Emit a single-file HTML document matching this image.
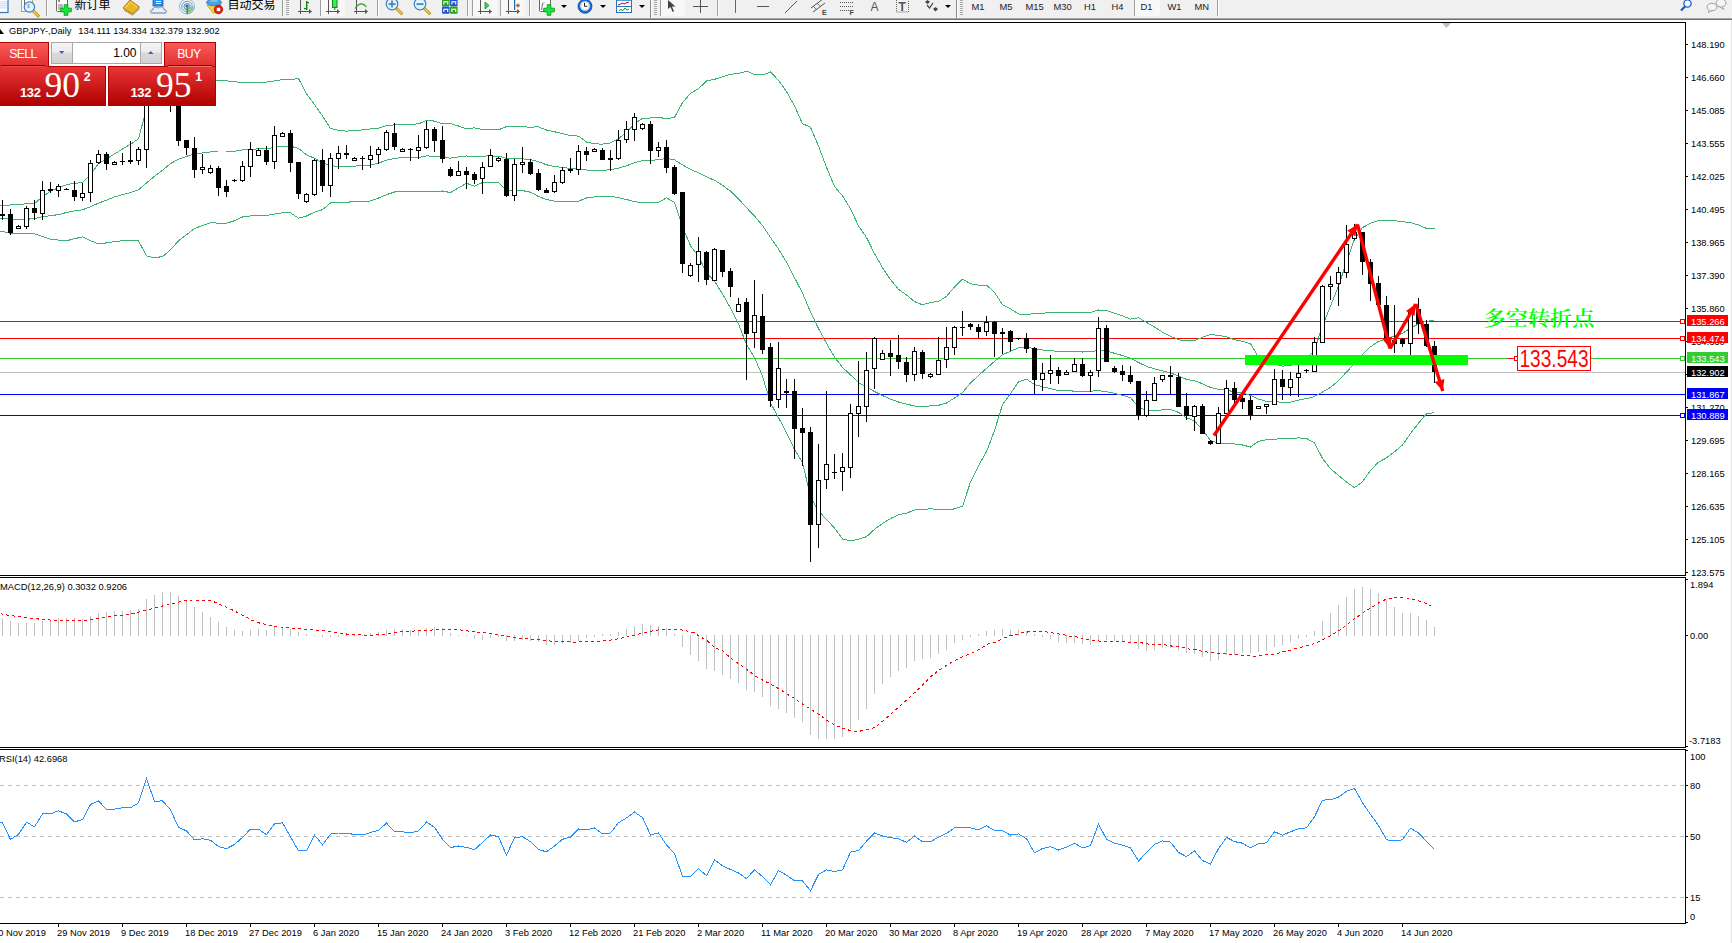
<!DOCTYPE html>
<html><head><meta charset="utf-8"><title>GBPJPY Daily</title><style>html,body{margin:0;padding:0;background:#fff;width:1732px;height:943px;overflow:hidden;position:relative}</style></head>
<body>
<svg width="1732" height="943" viewBox="0 0 1732 943" style="position:absolute;left:0;top:0"><defs><clipPath id="cm"><rect x="0" y="23" width="1685" height="552"/></clipPath><clipPath id="cmacd"><rect x="0" y="578" width="1685" height="169"/></clipPath><clipPath id="crsi"><rect x="0" y="750" width="1685" height="173"/></clipPath></defs><g clip-path="url(#cm)"><g shape-rendering="crispEdges"><rect x="0" y="321" width="1685" height="1" fill="#ff0000"/><rect x="0" y="338" width="1685" height="1" fill="#ff0000"/><rect x="0" y="358" width="1685" height="1" fill="#32cd32"/><rect x="0" y="372" width="1685" height="1" fill="#c0c0c0"/><rect x="0" y="394" width="1685" height="1" fill="#0000ff"/><rect x="0" y="415" width="1685" height="1" fill="#0000ff"/></g><g shape-rendering="crispEdges"><polyline points="-5.5,205.9 2.5,205.9 10.5,205.0 18.5,204.5 26.5,203.8 34.5,203.6 42.5,196.7 50.5,191.2 58.5,187.7 66.5,184.7 74.5,183.3 82.5,182.6 90.5,174.6 98.5,163.6 106.5,158.8 114.5,153.9 122.5,149.1 130.5,144.3 138.5,138.8 146.5,108.5 154.5,94.8 162.5,83.9 170.5,77.4 178.5,77.7 186.5,77.8 194.5,79.9 202.5,80.4 210.5,81.0 218.5,80.8 226.5,80.8 234.5,81.7 242.5,82.7 250.5,82.3 258.5,82.2 266.5,82.1 274.5,80.9 282.5,79.6 290.5,79.6 298.5,78.6 306.5,93.7 314.5,104.5 322.5,116.0 330.5,128.5 338.5,130.4 346.5,131.1 354.5,130.4 362.5,129.9 370.5,129.0 378.5,128.2 386.5,125.5 394.5,124.9 402.5,124.1 410.5,124.2 418.5,123.9 426.5,120.3 434.5,121.1 442.5,123.9 450.5,123.6 458.5,126.0 466.5,128.8 474.5,127.8 482.5,129.6 490.5,129.5 498.5,129.8 506.5,126.6 514.5,126.7 522.5,126.9 530.5,127.1 538.5,126.9 546.5,130.0 554.5,131.8 562.5,133.6 570.5,135.5 578.5,136.1 586.5,142.0 594.5,143.9 602.5,144.1 610.5,143.0 618.5,138.7 626.5,132.2 634.5,123.8 642.5,118.4 650.5,118.0 658.5,117.1 666.5,118.9 674.5,117.4 682.5,102.7 690.5,93.3 698.5,88.7 706.5,81.0 714.5,79.3 722.5,76.8 730.5,74.2 738.5,73.6 746.5,71.1 754.5,74.5 762.5,75.0 770.5,72.0 778.5,80.3 786.5,91.6 794.5,105.9 802.5,123.7 810.5,127.2 818.5,146.0 826.5,167.2 834.5,186.5 842.5,195.8 850.5,208.7 858.5,226.0 866.5,237.4 874.5,253.7 882.5,267.6 890.5,279.6 898.5,289.3 906.5,295.0 914.5,301.6 922.5,304.8 930.5,302.5 938.5,301.4 946.5,296.3 954.5,287.1 962.5,279.2 970.5,283.8 978.5,285.1 986.5,285.1 994.5,292.3 1002.5,304.8 1010.5,308.9 1018.5,314.0 1026.5,314.5 1034.5,313.7 1042.5,313.1 1050.5,312.8 1058.5,312.1 1066.5,312.3 1074.5,312.5 1082.5,312.4 1090.5,312.5 1098.5,310.0 1106.5,310.4 1114.5,313.1 1122.5,315.9 1130.5,319.1 1138.5,317.7 1146.5,322.5 1154.5,327.0 1162.5,332.1 1170.5,336.2 1178.5,339.7 1186.5,341.0 1194.5,340.5 1202.5,337.3 1210.5,334.5 1218.5,335.4 1226.5,336.8 1234.5,339.7 1242.5,341.3 1250.5,343.6 1258.5,357.2 1266.5,362.9 1274.5,364.2 1282.5,366.1 1290.5,365.7 1298.5,362.2 1306.5,358.7 1314.5,350.1 1322.5,325.8 1330.5,306.1 1338.5,286.0 1346.5,262.0 1354.5,239.1 1362.5,227.6 1370.5,223.2 1378.5,220.5 1386.5,220.1 1394.5,220.6 1402.5,221.7 1410.5,222.6 1418.5,224.9 1426.5,228.4 1434.5,228.9" fill="none" stroke="#3cb371" stroke-width="1" /><polyline points="-5.5,218.3 2.5,218.3 10.5,219.0 18.5,219.1 26.5,219.2 34.5,218.7 42.5,216.7 50.5,215.7 58.5,214.6 66.5,212.5 74.5,210.9 82.5,209.8 90.5,206.7 98.5,203.1 106.5,200.1 114.5,196.9 122.5,194.6 130.5,192.5 138.5,189.8 146.5,182.9 154.5,176.3 162.5,170.3 170.5,163.6 178.5,159.3 186.5,156.3 194.5,154.1 202.5,153.0 210.5,151.9 218.5,152.0 226.5,152.0 234.5,151.2 242.5,149.9 250.5,149.2 258.5,148.9 266.5,148.8 274.5,147.5 282.5,146.1 290.5,146.2 298.5,148.4 306.5,154.9 314.5,158.3 322.5,162.8 330.5,165.7 338.5,166.4 346.5,166.6 354.5,166.1 362.5,165.6 370.5,165.0 378.5,163.1 386.5,160.1 394.5,158.4 402.5,157.6 410.5,157.7 418.5,157.5 426.5,155.9 434.5,156.2 442.5,157.4 450.5,158.1 458.5,157.0 466.5,156.0 474.5,157.0 482.5,156.1 490.5,155.9 498.5,156.2 506.5,158.3 514.5,158.6 522.5,158.8 530.5,159.7 538.5,161.7 546.5,164.8 554.5,166.5 562.5,167.5 570.5,168.5 578.5,168.7 586.5,170.0 594.5,170.4 602.5,170.5 610.5,169.7 618.5,168.1 626.5,165.8 634.5,162.7 642.5,160.6 650.5,160.3 658.5,159.8 666.5,158.4 674.5,159.9 682.5,164.9 690.5,169.5 698.5,172.6 706.5,176.9 714.5,180.2 722.5,185.3 730.5,191.1 738.5,198.8 746.5,207.7 754.5,216.0 762.5,225.5 770.5,237.6 778.5,249.0 786.5,262.1 794.5,277.7 802.5,293.1 810.5,311.9 818.5,328.5 826.5,343.3 834.5,357.2 842.5,367.4 850.5,374.8 858.5,382.6 866.5,387.1 874.5,391.5 882.5,395.6 890.5,399.1 898.5,402.0 906.5,404.1 914.5,405.9 922.5,407.0 930.5,405.7 938.5,405.3 946.5,403.0 954.5,398.0 962.5,392.7 970.5,382.9 978.5,375.5 986.5,368.4 994.5,361.4 1002.5,354.8 1010.5,351.2 1018.5,347.9 1026.5,346.9 1034.5,349.0 1042.5,350.0 1050.5,350.7 1058.5,351.4 1066.5,351.2 1074.5,351.9 1082.5,352.0 1090.5,351.9 1098.5,350.3 1106.5,351.0 1114.5,353.3 1122.5,355.6 1130.5,358.3 1138.5,362.5 1146.5,366.4 1154.5,368.9 1162.5,370.9 1170.5,372.7 1178.5,376.1 1186.5,379.4 1194.5,380.7 1202.5,383.8 1210.5,387.5 1218.5,389.3 1226.5,390.1 1234.5,391.9 1242.5,393.2 1250.5,395.3 1258.5,399.2 1266.5,401.3 1274.5,401.7 1282.5,402.3 1290.5,402.2 1298.5,400.1 1306.5,398.6 1314.5,396.5 1322.5,392.1 1330.5,387.4 1338.5,380.7 1346.5,372.1 1354.5,363.4 1362.5,354.7 1370.5,346.8 1378.5,341.4 1386.5,339.0 1394.5,336.2 1402.5,333.3 1410.5,328.1 1418.5,324.0 1426.5,321.1 1434.5,320.8" fill="none" stroke="#3cb371" stroke-width="1" /><polyline points="-5.5,231.3 2.5,231.3 10.5,233.5 18.5,233.6 26.5,233.7 34.5,233.9 42.5,236.6 50.5,239.1 58.5,240.1 66.5,240.8 74.5,238.7 82.5,236.9 90.5,240.8 98.5,243.8 106.5,242.9 114.5,241.5 122.5,240.8 130.5,240.1 138.5,240.8 146.5,255.9 154.5,257.7 162.5,256.6 170.5,249.8 178.5,240.9 186.5,234.8 194.5,228.4 202.5,225.6 210.5,222.8 218.5,223.1 226.5,223.3 234.5,220.7 242.5,217.0 250.5,216.0 258.5,215.7 266.5,215.5 274.5,214.1 282.5,212.7 290.5,212.8 298.5,218.2 306.5,216.0 314.5,212.1 322.5,209.7 330.5,203.0 338.5,202.3 346.5,202.2 354.5,201.7 362.5,201.4 370.5,201.0 378.5,198.0 386.5,194.7 394.5,192.0 402.5,191.1 410.5,191.1 418.5,191.1 426.5,191.5 434.5,191.2 442.5,191.0 450.5,192.6 458.5,187.9 466.5,183.3 474.5,186.2 482.5,182.6 490.5,182.4 498.5,182.7 506.5,190.0 514.5,190.4 522.5,190.6 530.5,192.2 538.5,196.5 546.5,199.5 554.5,201.2 562.5,201.4 570.5,201.6 578.5,201.3 586.5,198.0 594.5,197.0 602.5,196.9 610.5,196.3 618.5,197.6 626.5,199.5 634.5,201.6 642.5,202.8 650.5,202.7 658.5,202.5 666.5,197.9 674.5,202.3 682.5,227.1 690.5,245.7 698.5,256.4 706.5,272.8 714.5,281.2 722.5,293.9 730.5,308.1 738.5,324.0 746.5,344.3 754.5,357.5 762.5,376.1 770.5,403.1 778.5,417.6 786.5,432.6 794.5,449.5 802.5,462.6 810.5,496.5 818.5,511.0 826.5,519.4 834.5,528.0 842.5,539.0 850.5,540.9 858.5,539.2 866.5,536.7 874.5,529.3 882.5,523.5 890.5,518.5 898.5,514.7 906.5,513.2 914.5,510.1 922.5,509.3 930.5,508.9 938.5,509.2 946.5,509.8 954.5,508.9 962.5,506.3 970.5,481.9 978.5,465.8 986.5,451.7 994.5,430.6 1002.5,404.8 1010.5,393.5 1018.5,381.8 1026.5,379.2 1034.5,384.4 1042.5,386.9 1050.5,388.6 1058.5,390.7 1066.5,390.1 1074.5,391.3 1082.5,391.6 1090.5,391.2 1098.5,390.6 1106.5,391.7 1114.5,393.4 1122.5,395.3 1130.5,397.6 1138.5,407.3 1146.5,410.3 1154.5,410.8 1162.5,409.8 1170.5,409.3 1178.5,412.4 1186.5,417.8 1194.5,420.9 1202.5,430.2 1210.5,440.4 1218.5,443.2 1226.5,443.4 1234.5,444.0 1242.5,445.0 1250.5,447.0 1258.5,441.2 1266.5,439.8 1274.5,439.2 1282.5,438.5 1290.5,438.6 1298.5,437.9 1306.5,438.4 1314.5,442.9 1322.5,458.4 1330.5,468.7 1338.5,475.4 1346.5,482.1 1354.5,487.6 1362.5,481.8 1370.5,470.3 1378.5,462.2 1386.5,457.9 1394.5,451.8 1402.5,445.0 1410.5,433.6 1418.5,423.1 1426.5,413.8 1434.5,412.7" fill="none" stroke="#3cb371" stroke-width="1" /></g><g shape-rendering="crispEdges"><rect x="2" y="200" width="1" height="20" fill="#000"/><rect x="0" y="214" width="5" height="2" fill="#000"/><rect x="10" y="209" width="1" height="26" fill="#000"/><rect x="8" y="214" width="5" height="19" fill="#000"/><rect x="18" y="225" width="1" height="4" fill="#000"/><rect x="16" y="226" width="5" height="3" fill="#000"/><rect x="17" y="227" width="3" height="1" fill="#fff"/><rect x="26" y="206" width="1" height="23" fill="#000"/><rect x="24" y="208" width="5" height="19" fill="#000"/><rect x="25" y="209" width="3" height="17" fill="#fff"/><rect x="34" y="200" width="1" height="20" fill="#000"/><rect x="32" y="208" width="5" height="5" fill="#000"/><rect x="42" y="181" width="1" height="39" fill="#000"/><rect x="40" y="190" width="5" height="24" fill="#000"/><rect x="41" y="191" width="3" height="22" fill="#fff"/><rect x="50" y="182" width="1" height="11" fill="#000"/><rect x="48" y="189" width="5" height="2" fill="#000"/><rect x="58" y="184" width="1" height="13" fill="#000"/><rect x="56" y="186" width="5" height="5" fill="#000"/><rect x="57" y="187" width="3" height="3" fill="#fff"/><rect x="66" y="188" width="1" height="2" fill="#000"/><rect x="64" y="189" width="5" height="1" fill="#000"/><rect x="74" y="181" width="1" height="20" fill="#000"/><rect x="72" y="190" width="5" height="7" fill="#000"/><rect x="82" y="183" width="1" height="18" fill="#000"/><rect x="80" y="193" width="5" height="5" fill="#000"/><rect x="81" y="194" width="3" height="3" fill="#fff"/><rect x="90" y="160" width="1" height="42" fill="#000"/><rect x="88" y="163" width="5" height="30" fill="#000"/><rect x="89" y="164" width="3" height="28" fill="#fff"/><rect x="98" y="150" width="1" height="14" fill="#000"/><rect x="96" y="154" width="5" height="9" fill="#000"/><rect x="97" y="155" width="3" height="7" fill="#fff"/><rect x="106" y="152" width="1" height="18" fill="#000"/><rect x="104" y="154" width="5" height="10" fill="#000"/><rect x="114" y="161" width="1" height="4" fill="#000"/><rect x="112" y="162" width="5" height="3" fill="#000"/><rect x="113" y="163" width="3" height="1" fill="#fff"/><rect x="122" y="153" width="1" height="12" fill="#000"/><rect x="120" y="161" width="5" height="1" fill="#000"/><rect x="130" y="141" width="1" height="23" fill="#000"/><rect x="128" y="160" width="5" height="2" fill="#000"/><rect x="138" y="147" width="1" height="18" fill="#000"/><rect x="136" y="149" width="5" height="12" fill="#000"/><rect x="137" y="150" width="3" height="10" fill="#fff"/><rect x="146" y="52" width="1" height="116" fill="#000"/><rect x="144" y="64" width="5" height="86" fill="#000"/><rect x="145" y="65" width="3" height="84" fill="#fff"/><rect x="154" y="49" width="1" height="53" fill="#000"/><rect x="152" y="64" width="5" height="26" fill="#000"/><rect x="162" y="88" width="1" height="9" fill="#000"/><rect x="160" y="91" width="5" height="4" fill="#000"/><rect x="170" y="82" width="1" height="30" fill="#000"/><rect x="168" y="96" width="5" height="4" fill="#000"/><rect x="178" y="95" width="1" height="51" fill="#000"/><rect x="176" y="100" width="5" height="41" fill="#000"/><rect x="186" y="140" width="1" height="15" fill="#000"/><rect x="184" y="140" width="5" height="8" fill="#000"/><rect x="194" y="137" width="1" height="41" fill="#000"/><rect x="192" y="148" width="5" height="22" fill="#000"/><rect x="202" y="154" width="1" height="20" fill="#000"/><rect x="200" y="167" width="5" height="3" fill="#000"/><rect x="201" y="168" width="3" height="1" fill="#fff"/><rect x="210" y="165" width="1" height="9" fill="#000"/><rect x="208" y="168" width="5" height="5" fill="#000"/><rect x="209" y="169" width="3" height="3" fill="#fff"/><rect x="218" y="166" width="1" height="30" fill="#000"/><rect x="216" y="168" width="5" height="20" fill="#000"/><rect x="226" y="180" width="1" height="17" fill="#000"/><rect x="224" y="186" width="5" height="6" fill="#000"/><rect x="234" y="179" width="1" height="3" fill="#000"/><rect x="232" y="180" width="5" height="1" fill="#000"/><rect x="242" y="161" width="1" height="21" fill="#000"/><rect x="240" y="166" width="5" height="15" fill="#000"/><rect x="241" y="167" width="3" height="13" fill="#fff"/><rect x="250" y="142" width="1" height="35" fill="#000"/><rect x="248" y="149" width="5" height="18" fill="#000"/><rect x="249" y="150" width="3" height="16" fill="#fff"/><rect x="258" y="148" width="1" height="8" fill="#000"/><rect x="256" y="150" width="5" height="6" fill="#000"/><rect x="257" y="151" width="3" height="4" fill="#fff"/><rect x="266" y="146" width="1" height="19" fill="#000"/><rect x="264" y="150" width="5" height="12" fill="#000"/><rect x="274" y="126" width="1" height="43" fill="#000"/><rect x="272" y="135" width="5" height="27" fill="#000"/><rect x="273" y="136" width="3" height="25" fill="#fff"/><rect x="282" y="132" width="1" height="5" fill="#000"/><rect x="280" y="133" width="5" height="4" fill="#000"/><rect x="281" y="134" width="3" height="2" fill="#fff"/><rect x="290" y="130" width="1" height="42" fill="#000"/><rect x="288" y="133" width="5" height="30" fill="#000"/><rect x="298" y="162" width="1" height="37" fill="#000"/><rect x="296" y="162" width="5" height="32" fill="#000"/><rect x="306" y="193" width="1" height="10" fill="#000"/><rect x="304" y="194" width="5" height="8" fill="#000"/><rect x="305" y="195" width="3" height="6" fill="#fff"/><rect x="314" y="159" width="1" height="37" fill="#000"/><rect x="312" y="160" width="5" height="35" fill="#000"/><rect x="313" y="161" width="3" height="33" fill="#fff"/><rect x="322" y="149" width="1" height="43" fill="#000"/><rect x="320" y="160" width="5" height="26" fill="#000"/><rect x="330" y="153" width="1" height="44" fill="#000"/><rect x="328" y="158" width="5" height="28" fill="#000"/><rect x="329" y="159" width="3" height="26" fill="#fff"/><rect x="338" y="146" width="1" height="23" fill="#000"/><rect x="336" y="153" width="5" height="6" fill="#000"/><rect x="337" y="154" width="3" height="4" fill="#fff"/><rect x="346" y="145" width="1" height="14" fill="#000"/><rect x="344" y="153" width="5" height="2" fill="#000"/><rect x="354" y="157" width="1" height="4" fill="#000"/><rect x="352" y="158" width="5" height="3" fill="#000"/><rect x="353" y="159" width="3" height="1" fill="#fff"/><rect x="362" y="156" width="1" height="14" fill="#000"/><rect x="360" y="158" width="5" height="1" fill="#000"/><rect x="370" y="146" width="1" height="22" fill="#000"/><rect x="368" y="155" width="5" height="5" fill="#000"/><rect x="369" y="156" width="3" height="3" fill="#fff"/><rect x="378" y="147" width="1" height="17" fill="#000"/><rect x="376" y="149" width="5" height="6" fill="#000"/><rect x="377" y="150" width="3" height="4" fill="#fff"/><rect x="386" y="130" width="1" height="21" fill="#000"/><rect x="384" y="132" width="5" height="18" fill="#000"/><rect x="385" y="133" width="3" height="16" fill="#fff"/><rect x="394" y="123" width="1" height="27" fill="#000"/><rect x="392" y="133" width="5" height="14" fill="#000"/><rect x="402" y="148" width="1" height="4" fill="#000"/><rect x="400" y="149" width="5" height="3" fill="#000"/><rect x="401" y="150" width="3" height="1" fill="#fff"/><rect x="410" y="148" width="1" height="13" fill="#000"/><rect x="408" y="149" width="5" height="1" fill="#000"/><rect x="418" y="135" width="1" height="24" fill="#000"/><rect x="416" y="147" width="5" height="4" fill="#000"/><rect x="417" y="148" width="3" height="2" fill="#fff"/><rect x="426" y="121" width="1" height="28" fill="#000"/><rect x="424" y="129" width="5" height="19" fill="#000"/><rect x="425" y="130" width="3" height="17" fill="#fff"/><rect x="434" y="127" width="1" height="25" fill="#000"/><rect x="432" y="129" width="5" height="12" fill="#000"/><rect x="442" y="126" width="1" height="37" fill="#000"/><rect x="440" y="140" width="5" height="19" fill="#000"/><rect x="450" y="167" width="1" height="10" fill="#000"/><rect x="448" y="169" width="5" height="7" fill="#000"/><rect x="458" y="161" width="1" height="15" fill="#000"/><rect x="456" y="171" width="5" height="5" fill="#000"/><rect x="457" y="172" width="3" height="3" fill="#fff"/><rect x="466" y="167" width="1" height="22" fill="#000"/><rect x="464" y="171" width="5" height="4" fill="#000"/><rect x="474" y="172" width="1" height="12" fill="#000"/><rect x="472" y="174" width="5" height="6" fill="#000"/><rect x="482" y="162" width="1" height="32" fill="#000"/><rect x="480" y="167" width="5" height="12" fill="#000"/><rect x="481" y="168" width="3" height="10" fill="#fff"/><rect x="490" y="149" width="1" height="18" fill="#000"/><rect x="488" y="155" width="5" height="12" fill="#000"/><rect x="489" y="156" width="3" height="10" fill="#fff"/><rect x="498" y="157" width="1" height="5" fill="#000"/><rect x="496" y="158" width="5" height="3" fill="#000"/><rect x="497" y="159" width="3" height="1" fill="#fff"/><rect x="506" y="153" width="1" height="44" fill="#000"/><rect x="504" y="159" width="5" height="37" fill="#000"/><rect x="514" y="159" width="1" height="42" fill="#000"/><rect x="512" y="164" width="5" height="32" fill="#000"/><rect x="513" y="165" width="3" height="30" fill="#fff"/><rect x="522" y="147" width="1" height="26" fill="#000"/><rect x="520" y="162" width="5" height="3" fill="#000"/><rect x="521" y="163" width="3" height="1" fill="#fff"/><rect x="530" y="159" width="1" height="16" fill="#000"/><rect x="528" y="162" width="5" height="12" fill="#000"/><rect x="538" y="169" width="1" height="22" fill="#000"/><rect x="536" y="173" width="5" height="17" fill="#000"/><rect x="546" y="188" width="1" height="5" fill="#000"/><rect x="544" y="190" width="5" height="3" fill="#000"/><rect x="554" y="175" width="1" height="18" fill="#000"/><rect x="552" y="182" width="5" height="10" fill="#000"/><rect x="553" y="183" width="3" height="8" fill="#fff"/><rect x="562" y="167" width="1" height="17" fill="#000"/><rect x="560" y="170" width="5" height="13" fill="#000"/><rect x="561" y="171" width="3" height="11" fill="#fff"/><rect x="570" y="158" width="1" height="15" fill="#000"/><rect x="568" y="169" width="5" height="2" fill="#000"/><rect x="578" y="145" width="1" height="30" fill="#000"/><rect x="576" y="151" width="5" height="19" fill="#000"/><rect x="577" y="152" width="3" height="17" fill="#fff"/><rect x="586" y="147" width="1" height="14" fill="#000"/><rect x="584" y="151" width="5" height="4" fill="#000"/><rect x="594" y="148" width="1" height="4" fill="#000"/><rect x="592" y="149" width="5" height="3" fill="#000"/><rect x="593" y="150" width="3" height="1" fill="#fff"/><rect x="602" y="148" width="1" height="12" fill="#000"/><rect x="600" y="150" width="5" height="10" fill="#000"/><rect x="610" y="150" width="1" height="21" fill="#000"/><rect x="608" y="158" width="5" height="2" fill="#000"/><rect x="618" y="130" width="1" height="30" fill="#000"/><rect x="616" y="140" width="5" height="19" fill="#000"/><rect x="617" y="141" width="3" height="17" fill="#fff"/><rect x="626" y="121" width="1" height="22" fill="#000"/><rect x="624" y="129" width="5" height="11" fill="#000"/><rect x="625" y="130" width="3" height="9" fill="#fff"/><rect x="634" y="113" width="1" height="28" fill="#000"/><rect x="632" y="117" width="5" height="13" fill="#000"/><rect x="633" y="118" width="3" height="11" fill="#fff"/><rect x="642" y="123" width="1" height="7" fill="#000"/><rect x="640" y="124" width="5" height="5" fill="#000"/><rect x="641" y="125" width="3" height="3" fill="#fff"/><rect x="650" y="121" width="1" height="43" fill="#000"/><rect x="648" y="124" width="5" height="27" fill="#000"/><rect x="658" y="142" width="1" height="15" fill="#000"/><rect x="656" y="147" width="5" height="4" fill="#000"/><rect x="657" y="148" width="3" height="2" fill="#fff"/><rect x="666" y="140" width="1" height="33" fill="#000"/><rect x="664" y="147" width="5" height="21" fill="#000"/><rect x="674" y="165" width="1" height="30" fill="#000"/><rect x="672" y="167" width="5" height="27" fill="#000"/><rect x="682" y="192" width="1" height="81" fill="#000"/><rect x="680" y="192" width="5" height="72" fill="#000"/><rect x="690" y="263" width="1" height="14" fill="#000"/><rect x="688" y="265" width="5" height="11" fill="#000"/><rect x="689" y="266" width="3" height="9" fill="#fff"/><rect x="698" y="237" width="1" height="45" fill="#000"/><rect x="696" y="251" width="5" height="14" fill="#000"/><rect x="697" y="252" width="3" height="12" fill="#fff"/><rect x="706" y="251" width="1" height="34" fill="#000"/><rect x="704" y="252" width="5" height="28" fill="#000"/><rect x="714" y="248" width="1" height="33" fill="#000"/><rect x="712" y="249" width="5" height="32" fill="#000"/><rect x="713" y="250" width="3" height="30" fill="#fff"/><rect x="722" y="250" width="1" height="27" fill="#000"/><rect x="720" y="250" width="5" height="22" fill="#000"/><rect x="730" y="268" width="1" height="29" fill="#000"/><rect x="728" y="271" width="5" height="16" fill="#000"/><rect x="738" y="298" width="1" height="14" fill="#000"/><rect x="736" y="304" width="5" height="8" fill="#000"/><rect x="737" y="305" width="3" height="6" fill="#fff"/><rect x="746" y="298" width="1" height="82" fill="#000"/><rect x="744" y="302" width="5" height="32" fill="#000"/><rect x="754" y="280" width="1" height="68" fill="#000"/><rect x="752" y="315" width="5" height="18" fill="#000"/><rect x="753" y="316" width="3" height="16" fill="#fff"/><rect x="762" y="294" width="1" height="60" fill="#000"/><rect x="760" y="316" width="5" height="34" fill="#000"/><rect x="770" y="343" width="1" height="64" fill="#000"/><rect x="768" y="347" width="5" height="54" fill="#000"/><rect x="778" y="342" width="1" height="66" fill="#000"/><rect x="776" y="368" width="5" height="32" fill="#000"/><rect x="777" y="369" width="3" height="30" fill="#fff"/><rect x="786" y="379" width="1" height="29" fill="#000"/><rect x="784" y="391" width="5" height="2" fill="#000"/><rect x="794" y="379" width="1" height="80" fill="#000"/><rect x="792" y="391" width="5" height="38" fill="#000"/><rect x="802" y="408" width="1" height="58" fill="#000"/><rect x="800" y="428" width="5" height="5" fill="#000"/><rect x="810" y="427" width="1" height="135" fill="#000"/><rect x="808" y="432" width="5" height="93" fill="#000"/><rect x="818" y="444" width="1" height="104" fill="#000"/><rect x="816" y="480" width="5" height="45" fill="#000"/><rect x="817" y="481" width="3" height="43" fill="#fff"/><rect x="826" y="391" width="1" height="98" fill="#000"/><rect x="824" y="464" width="5" height="16" fill="#000"/><rect x="825" y="465" width="3" height="14" fill="#fff"/><rect x="834" y="454" width="1" height="25" fill="#000"/><rect x="832" y="472" width="5" height="1" fill="#000"/><rect x="842" y="453" width="1" height="38" fill="#000"/><rect x="840" y="467" width="5" height="5" fill="#000"/><rect x="841" y="468" width="3" height="3" fill="#fff"/><rect x="850" y="404" width="1" height="74" fill="#000"/><rect x="848" y="413" width="5" height="55" fill="#000"/><rect x="849" y="414" width="3" height="53" fill="#fff"/><rect x="858" y="361" width="1" height="76" fill="#000"/><rect x="856" y="406" width="5" height="8" fill="#000"/><rect x="857" y="407" width="3" height="6" fill="#fff"/><rect x="866" y="352" width="1" height="70" fill="#000"/><rect x="864" y="370" width="5" height="37" fill="#000"/><rect x="865" y="371" width="3" height="35" fill="#fff"/><rect x="874" y="337" width="1" height="52" fill="#000"/><rect x="872" y="338" width="5" height="31" fill="#000"/><rect x="873" y="339" width="3" height="29" fill="#fff"/><rect x="882" y="350" width="1" height="10" fill="#000"/><rect x="880" y="353" width="5" height="7" fill="#000"/><rect x="881" y="354" width="3" height="5" fill="#fff"/><rect x="890" y="340" width="1" height="36" fill="#000"/><rect x="888" y="353" width="5" height="4" fill="#000"/><rect x="898" y="335" width="1" height="34" fill="#000"/><rect x="896" y="355" width="5" height="7" fill="#000"/><rect x="906" y="357" width="1" height="25" fill="#000"/><rect x="904" y="362" width="5" height="13" fill="#000"/><rect x="914" y="347" width="1" height="34" fill="#000"/><rect x="912" y="351" width="5" height="24" fill="#000"/><rect x="913" y="352" width="3" height="22" fill="#fff"/><rect x="922" y="350" width="1" height="29" fill="#000"/><rect x="920" y="352" width="5" height="22" fill="#000"/><rect x="930" y="373" width="1" height="5" fill="#000"/><rect x="928" y="374" width="5" height="3" fill="#000"/><rect x="929" y="375" width="3" height="1" fill="#fff"/><rect x="938" y="337" width="1" height="38" fill="#000"/><rect x="936" y="360" width="5" height="15" fill="#000"/><rect x="937" y="361" width="3" height="13" fill="#fff"/><rect x="946" y="327" width="1" height="41" fill="#000"/><rect x="944" y="347" width="5" height="13" fill="#000"/><rect x="945" y="348" width="3" height="11" fill="#fff"/><rect x="954" y="326" width="1" height="29" fill="#000"/><rect x="952" y="327" width="5" height="21" fill="#000"/><rect x="953" y="328" width="3" height="19" fill="#fff"/><rect x="962" y="311" width="1" height="25" fill="#000"/><rect x="960" y="327" width="5" height="1" fill="#000"/><rect x="970" y="323" width="1" height="7" fill="#000"/><rect x="968" y="324" width="5" height="3" fill="#000"/><rect x="978" y="324" width="1" height="14" fill="#000"/><rect x="976" y="327" width="5" height="5" fill="#000"/><rect x="986" y="316" width="1" height="20" fill="#000"/><rect x="984" y="322" width="5" height="10" fill="#000"/><rect x="985" y="323" width="3" height="8" fill="#fff"/><rect x="994" y="321" width="1" height="36" fill="#000"/><rect x="992" y="322" width="5" height="12" fill="#000"/><rect x="1002" y="328" width="1" height="26" fill="#000"/><rect x="1000" y="332" width="5" height="2" fill="#000"/><rect x="1010" y="330" width="1" height="21" fill="#000"/><rect x="1008" y="331" width="5" height="11" fill="#000"/><rect x="1018" y="338" width="1" height="2" fill="#000"/><rect x="1016" y="338" width="5" height="1" fill="#000"/><rect x="1026" y="333" width="1" height="20" fill="#000"/><rect x="1024" y="338" width="5" height="11" fill="#000"/><rect x="1034" y="347" width="1" height="47" fill="#000"/><rect x="1032" y="348" width="5" height="32" fill="#000"/><rect x="1042" y="363" width="1" height="28" fill="#000"/><rect x="1040" y="373" width="5" height="7" fill="#000"/><rect x="1041" y="374" width="3" height="5" fill="#fff"/><rect x="1050" y="355" width="1" height="29" fill="#000"/><rect x="1048" y="370" width="5" height="4" fill="#000"/><rect x="1049" y="371" width="3" height="2" fill="#fff"/><rect x="1058" y="367" width="1" height="17" fill="#000"/><rect x="1056" y="370" width="5" height="6" fill="#000"/><rect x="1066" y="370" width="1" height="5" fill="#000"/><rect x="1064" y="372" width="5" height="3" fill="#000"/><rect x="1065" y="373" width="3" height="1" fill="#fff"/><rect x="1074" y="358" width="1" height="14" fill="#000"/><rect x="1072" y="364" width="5" height="8" fill="#000"/><rect x="1073" y="365" width="3" height="6" fill="#fff"/><rect x="1082" y="358" width="1" height="19" fill="#000"/><rect x="1080" y="364" width="5" height="12" fill="#000"/><rect x="1090" y="370" width="1" height="22" fill="#000"/><rect x="1088" y="372" width="5" height="4" fill="#000"/><rect x="1089" y="373" width="3" height="2" fill="#fff"/><rect x="1098" y="317" width="1" height="60" fill="#000"/><rect x="1096" y="328" width="5" height="43" fill="#000"/><rect x="1097" y="329" width="3" height="41" fill="#fff"/><rect x="1106" y="325" width="1" height="37" fill="#000"/><rect x="1104" y="328" width="5" height="34" fill="#000"/><rect x="1114" y="366" width="1" height="7" fill="#000"/><rect x="1112" y="368" width="5" height="4" fill="#000"/><rect x="1122" y="365" width="1" height="16" fill="#000"/><rect x="1120" y="371" width="5" height="4" fill="#000"/><rect x="1130" y="366" width="1" height="18" fill="#000"/><rect x="1128" y="375" width="5" height="7" fill="#000"/><rect x="1138" y="381" width="1" height="39" fill="#000"/><rect x="1136" y="381" width="5" height="34" fill="#000"/><rect x="1146" y="391" width="1" height="26" fill="#000"/><rect x="1144" y="400" width="5" height="16" fill="#000"/><rect x="1145" y="401" width="3" height="14" fill="#fff"/><rect x="1154" y="377" width="1" height="24" fill="#000"/><rect x="1152" y="383" width="5" height="18" fill="#000"/><rect x="1153" y="384" width="3" height="16" fill="#fff"/><rect x="1162" y="375" width="1" height="7" fill="#000"/><rect x="1160" y="375" width="5" height="5" fill="#000"/><rect x="1161" y="376" width="3" height="3" fill="#fff"/><rect x="1170" y="366" width="1" height="28" fill="#000"/><rect x="1168" y="375" width="5" height="2" fill="#000"/><rect x="1178" y="373" width="1" height="34" fill="#000"/><rect x="1176" y="377" width="5" height="30" fill="#000"/><rect x="1186" y="393" width="1" height="27" fill="#000"/><rect x="1184" y="406" width="5" height="10" fill="#000"/><rect x="1194" y="405" width="1" height="26" fill="#000"/><rect x="1192" y="406" width="5" height="11" fill="#000"/><rect x="1193" y="407" width="3" height="9" fill="#fff"/><rect x="1202" y="404" width="1" height="30" fill="#000"/><rect x="1200" y="406" width="5" height="28" fill="#000"/><rect x="1210" y="440" width="1" height="5" fill="#000"/><rect x="1208" y="441" width="5" height="3" fill="#000"/><rect x="1218" y="407" width="1" height="37" fill="#000"/><rect x="1216" y="413" width="5" height="31" fill="#000"/><rect x="1217" y="414" width="3" height="29" fill="#fff"/><rect x="1226" y="380" width="1" height="34" fill="#000"/><rect x="1224" y="388" width="5" height="26" fill="#000"/><rect x="1225" y="389" width="3" height="24" fill="#fff"/><rect x="1234" y="382" width="1" height="22" fill="#000"/><rect x="1232" y="388" width="5" height="12" fill="#000"/><rect x="1242" y="396" width="1" height="13" fill="#000"/><rect x="1240" y="398" width="5" height="4" fill="#000"/><rect x="1250" y="396" width="1" height="24" fill="#000"/><rect x="1248" y="400" width="5" height="15" fill="#000"/><rect x="1258" y="406" width="1" height="3" fill="#000"/><rect x="1256" y="406" width="5" height="3" fill="#000"/><rect x="1257" y="407" width="3" height="1" fill="#fff"/><rect x="1266" y="404" width="1" height="10" fill="#000"/><rect x="1264" y="404" width="5" height="3" fill="#000"/><rect x="1265" y="405" width="3" height="1" fill="#fff"/><rect x="1274" y="369" width="1" height="36" fill="#000"/><rect x="1272" y="379" width="5" height="26" fill="#000"/><rect x="1273" y="380" width="3" height="24" fill="#fff"/><rect x="1282" y="370" width="1" height="30" fill="#000"/><rect x="1280" y="379" width="5" height="8" fill="#000"/><rect x="1290" y="372" width="1" height="24" fill="#000"/><rect x="1288" y="379" width="5" height="9" fill="#000"/><rect x="1289" y="380" width="3" height="7" fill="#fff"/><rect x="1298" y="365" width="1" height="32" fill="#000"/><rect x="1296" y="373" width="5" height="5" fill="#000"/><rect x="1297" y="374" width="3" height="3" fill="#fff"/><rect x="1306" y="369" width="1" height="4" fill="#000"/><rect x="1304" y="370" width="5" height="1" fill="#000"/><rect x="1314" y="337" width="1" height="35" fill="#000"/><rect x="1312" y="342" width="5" height="30" fill="#000"/><rect x="1313" y="343" width="3" height="28" fill="#fff"/><rect x="1322" y="285" width="1" height="58" fill="#000"/><rect x="1320" y="286" width="5" height="57" fill="#000"/><rect x="1321" y="287" width="3" height="55" fill="#fff"/><rect x="1330" y="276" width="1" height="24" fill="#000"/><rect x="1328" y="284" width="5" height="3" fill="#000"/><rect x="1329" y="285" width="3" height="1" fill="#fff"/><rect x="1338" y="267" width="1" height="39" fill="#000"/><rect x="1336" y="272" width="5" height="12" fill="#000"/><rect x="1337" y="273" width="3" height="10" fill="#fff"/><rect x="1346" y="225" width="1" height="53" fill="#000"/><rect x="1344" y="244" width="5" height="29" fill="#000"/><rect x="1345" y="245" width="3" height="27" fill="#fff"/><rect x="1354" y="224" width="1" height="16" fill="#000"/><rect x="1352" y="232" width="5" height="7" fill="#000"/><rect x="1353" y="233" width="3" height="5" fill="#fff"/><rect x="1362" y="232" width="1" height="43" fill="#000"/><rect x="1360" y="232" width="5" height="30" fill="#000"/><rect x="1370" y="259" width="1" height="42" fill="#000"/><rect x="1368" y="262" width="5" height="22" fill="#000"/><rect x="1378" y="276" width="1" height="30" fill="#000"/><rect x="1376" y="283" width="5" height="22" fill="#000"/><rect x="1386" y="296" width="1" height="45" fill="#000"/><rect x="1384" y="305" width="5" height="36" fill="#000"/><rect x="1394" y="305" width="1" height="48" fill="#000"/><rect x="1392" y="340" width="5" height="4" fill="#000"/><rect x="1402" y="338" width="1" height="9" fill="#000"/><rect x="1400" y="339" width="5" height="5" fill="#000"/><rect x="1410" y="309" width="1" height="46" fill="#000"/><rect x="1408" y="310" width="5" height="34" fill="#000"/><rect x="1409" y="311" width="3" height="32" fill="#fff"/><rect x="1418" y="298" width="1" height="36" fill="#000"/><rect x="1416" y="309" width="5" height="15" fill="#000"/><rect x="1426" y="320" width="1" height="27" fill="#000"/><rect x="1424" y="324" width="5" height="22" fill="#000"/><rect x="1434" y="341" width="1" height="42" fill="#000"/><rect x="1432" y="346" width="5" height="26" fill="#000"/></g><g shape-rendering="crispEdges"><rect x="1680" y="319" width="5" height="5" fill="#ff0000"/><rect x="1681" y="320" width="3" height="3" fill="#fff"/><rect x="1680" y="336" width="5" height="5" fill="#ff0000"/><rect x="1681" y="337" width="3" height="3" fill="#fff"/><rect x="1680" y="356" width="5" height="5" fill="#32cd32"/><rect x="1681" y="357" width="3" height="3" fill="#fff"/><rect x="1680" y="413" width="5" height="5" fill="#0000ff"/><rect x="1681" y="414" width="3" height="3" fill="#fff"/></g><rect x="1245" y="355" width="223" height="10" fill="#00ff00"/><line x1="1214" y1="435.5" x2="1357.5" y2="224.5" stroke="#ff0000" stroke-width="3.4"/><polygon points="1357.5,224.5 1355.4,236.4 1347.2,230.8" fill="#ff0000"/><line x1="1357.5" y1="224.5" x2="1390" y2="348.5" stroke="#ff0000" stroke-width="3.4"/><polygon points="1390,348.5 1382.4,339.1 1392.0,336.6" fill="#ff0000"/><line x1="1390" y1="348.5" x2="1415.8" y2="304" stroke="#ff0000" stroke-width="3.4"/><polygon points="1415.8,304 1414.6,316.0 1406.0,311.0" fill="#ff0000"/><line x1="1415.8" y1="304" x2="1442.8" y2="391" stroke="#ff0000" stroke-width="3.4"/><polygon points="1442.8,391 1434.8,382.0 1444.3,379.0" fill="#ff0000"/><text x="1483.5" y="325.5" textLength="111" lengthAdjust="spacingAndGlyphs" style="font-family:'Liberation Serif','Noto Serif CJK SC',serif;font-size:20.5px;font-weight:600" fill="#00ff00">多空转折点</text><rect x="1507" y="358" width="8" height="1" fill="#ff0000"/><rect x="1517.5" y="346.5" width="73" height="24" fill="#fff" stroke="#ff0000" stroke-width="1" shape-rendering="crispEdges"/><rect x="1514.5" y="356.5" width="3" height="4" fill="#fff" stroke="#ff0000" stroke-width="1" shape-rendering="crispEdges"/><text x="1519.5" y="367" textLength="69" lengthAdjust="spacingAndGlyphs" style="font-family:'Liberation Sans',Arial,sans-serif;font-size:23.3px" fill="#ff0000">133.543</text><polygon points="1442,23 1451,23 1446.5,28" fill="#c0c0c0"/></g><g clip-path="url(#cmacd)" shape-rendering="crispEdges"><rect x="2" y="618" width="1" height="18" fill="#c0c0c0"/><rect x="10" y="621" width="1" height="15" fill="#c0c0c0"/><rect x="18" y="623" width="1" height="13" fill="#c0c0c0"/><rect x="26" y="623" width="1" height="13" fill="#c0c0c0"/><rect x="34" y="623" width="1" height="13" fill="#c0c0c0"/><rect x="42" y="621" width="1" height="15" fill="#c0c0c0"/><rect x="50" y="620" width="1" height="16" fill="#c0c0c0"/><rect x="58" y="618" width="1" height="18" fill="#c0c0c0"/><rect x="66" y="618" width="1" height="18" fill="#c0c0c0"/><rect x="74" y="618" width="1" height="18" fill="#c0c0c0"/><rect x="82" y="619" width="1" height="17" fill="#c0c0c0"/><rect x="90" y="616" width="1" height="20" fill="#c0c0c0"/><rect x="98" y="613" width="1" height="23" fill="#c0c0c0"/><rect x="106" y="612" width="1" height="24" fill="#c0c0c0"/><rect x="114" y="611" width="1" height="25" fill="#c0c0c0"/><rect x="122" y="611" width="1" height="25" fill="#c0c0c0"/><rect x="130" y="610" width="1" height="26" fill="#c0c0c0"/><rect x="138" y="609" width="1" height="27" fill="#c0c0c0"/><rect x="146" y="599" width="1" height="37" fill="#c0c0c0"/><rect x="154" y="595" width="1" height="41" fill="#c0c0c0"/><rect x="162" y="592" width="1" height="44" fill="#c0c0c0"/><rect x="170" y="592" width="1" height="44" fill="#c0c0c0"/><rect x="178" y="596" width="1" height="40" fill="#c0c0c0"/><rect x="186" y="601" width="1" height="35" fill="#c0c0c0"/><rect x="194" y="607" width="1" height="29" fill="#c0c0c0"/><rect x="202" y="612" width="1" height="24" fill="#c0c0c0"/><rect x="210" y="617" width="1" height="19" fill="#c0c0c0"/><rect x="218" y="622" width="1" height="14" fill="#c0c0c0"/><rect x="226" y="627" width="1" height="9" fill="#c0c0c0"/><rect x="234" y="630" width="1" height="6" fill="#c0c0c0"/><rect x="242" y="631" width="1" height="5" fill="#c0c0c0"/><rect x="250" y="630" width="1" height="6" fill="#c0c0c0"/><rect x="258" y="629" width="1" height="7" fill="#c0c0c0"/><rect x="266" y="630" width="1" height="6" fill="#c0c0c0"/><rect x="274" y="627" width="1" height="9" fill="#c0c0c0"/><rect x="282" y="627" width="1" height="9" fill="#c0c0c0"/><rect x="290" y="629" width="1" height="7" fill="#c0c0c0"/><rect x="298" y="632" width="1" height="4" fill="#c0c0c0"/><rect x="306" y="634" width="1" height="2" fill="#c0c0c0"/><rect x="314" y="635" width="1" height="1" fill="#c0c0c0"/><rect x="322" y="635" width="1" height="2" fill="#c0c0c0"/><rect x="330" y="635" width="1" height="2" fill="#c0c0c0"/><rect x="338" y="635" width="1" height="2" fill="#c0c0c0"/><rect x="346" y="635" width="1" height="1" fill="#c0c0c0"/><rect x="354" y="635" width="1" height="1" fill="#c0c0c0"/><rect x="362" y="635" width="1" height="1" fill="#c0c0c0"/><rect x="370" y="633" width="1" height="3" fill="#c0c0c0"/><rect x="378" y="632" width="1" height="4" fill="#c0c0c0"/><rect x="386" y="630" width="1" height="6" fill="#c0c0c0"/><rect x="394" y="629" width="1" height="7" fill="#c0c0c0"/><rect x="402" y="629" width="1" height="7" fill="#c0c0c0"/><rect x="410" y="630" width="1" height="6" fill="#c0c0c0"/><rect x="418" y="630" width="1" height="6" fill="#c0c0c0"/><rect x="426" y="628" width="1" height="8" fill="#c0c0c0"/><rect x="434" y="627" width="1" height="9" fill="#c0c0c0"/><rect x="442" y="628" width="1" height="8" fill="#c0c0c0"/><rect x="450" y="633" width="1" height="3" fill="#c0c0c0"/><rect x="458" y="635" width="1" height="1" fill="#c0c0c0"/><rect x="466" y="635" width="1" height="1" fill="#c0c0c0"/><rect x="474" y="635" width="1" height="4" fill="#c0c0c0"/><rect x="482" y="635" width="1" height="5" fill="#c0c0c0"/><rect x="490" y="635" width="1" height="3" fill="#c0c0c0"/><rect x="498" y="635" width="1" height="2" fill="#c0c0c0"/><rect x="506" y="635" width="1" height="6" fill="#c0c0c0"/><rect x="514" y="635" width="1" height="6" fill="#c0c0c0"/><rect x="522" y="635" width="1" height="5" fill="#c0c0c0"/><rect x="530" y="635" width="1" height="6" fill="#c0c0c0"/><rect x="538" y="635" width="1" height="7" fill="#c0c0c0"/><rect x="546" y="635" width="1" height="10" fill="#c0c0c0"/><rect x="554" y="635" width="1" height="10" fill="#c0c0c0"/><rect x="562" y="635" width="1" height="9" fill="#c0c0c0"/><rect x="570" y="635" width="1" height="8" fill="#c0c0c0"/><rect x="578" y="635" width="1" height="6" fill="#c0c0c0"/><rect x="586" y="635" width="1" height="3" fill="#c0c0c0"/><rect x="594" y="635" width="1" height="2" fill="#c0c0c0"/><rect x="602" y="634" width="1" height="2" fill="#c0c0c0"/><rect x="610" y="634" width="1" height="2" fill="#c0c0c0"/><rect x="618" y="632" width="1" height="4" fill="#c0c0c0"/><rect x="626" y="629" width="1" height="7" fill="#c0c0c0"/><rect x="634" y="626" width="1" height="10" fill="#c0c0c0"/><rect x="642" y="624" width="1" height="12" fill="#c0c0c0"/><rect x="650" y="625" width="1" height="11" fill="#c0c0c0"/><rect x="658" y="626" width="1" height="10" fill="#c0c0c0"/><rect x="666" y="628" width="1" height="8" fill="#c0c0c0"/><rect x="674" y="634" width="1" height="2" fill="#c0c0c0"/><rect x="682" y="635" width="1" height="12" fill="#c0c0c0"/><rect x="690" y="635" width="1" height="20" fill="#c0c0c0"/><rect x="698" y="635" width="1" height="26" fill="#c0c0c0"/><rect x="706" y="635" width="1" height="34" fill="#c0c0c0"/><rect x="714" y="635" width="1" height="36" fill="#c0c0c0"/><rect x="722" y="635" width="1" height="40" fill="#c0c0c0"/><rect x="730" y="635" width="1" height="44" fill="#c0c0c0"/><rect x="738" y="635" width="1" height="48" fill="#c0c0c0"/><rect x="746" y="635" width="1" height="55" fill="#c0c0c0"/><rect x="754" y="635" width="1" height="57" fill="#c0c0c0"/><rect x="762" y="635" width="1" height="62" fill="#c0c0c0"/><rect x="770" y="635" width="1" height="71" fill="#c0c0c0"/><rect x="778" y="635" width="1" height="74" fill="#c0c0c0"/><rect x="786" y="635" width="1" height="78" fill="#c0c0c0"/><rect x="794" y="635" width="1" height="83" fill="#c0c0c0"/><rect x="802" y="635" width="1" height="87" fill="#c0c0c0"/><rect x="810" y="635" width="1" height="100" fill="#c0c0c0"/><rect x="818" y="635" width="1" height="104" fill="#c0c0c0"/><rect x="826" y="635" width="1" height="104" fill="#c0c0c0"/><rect x="834" y="635" width="1" height="104" fill="#c0c0c0"/><rect x="842" y="635" width="1" height="102" fill="#c0c0c0"/><rect x="850" y="635" width="1" height="94" fill="#c0c0c0"/><rect x="858" y="635" width="1" height="85" fill="#c0c0c0"/><rect x="866" y="635" width="1" height="74" fill="#c0c0c0"/><rect x="874" y="635" width="1" height="59" fill="#c0c0c0"/><rect x="882" y="635" width="1" height="49" fill="#c0c0c0"/><rect x="890" y="635" width="1" height="42" fill="#c0c0c0"/><rect x="898" y="635" width="1" height="36" fill="#c0c0c0"/><rect x="906" y="635" width="1" height="33" fill="#c0c0c0"/><rect x="914" y="635" width="1" height="26" fill="#c0c0c0"/><rect x="922" y="635" width="1" height="24" fill="#c0c0c0"/><rect x="930" y="635" width="1" height="23" fill="#c0c0c0"/><rect x="938" y="635" width="1" height="19" fill="#c0c0c0"/><rect x="946" y="635" width="1" height="15" fill="#c0c0c0"/><rect x="954" y="635" width="1" height="8" fill="#c0c0c0"/><rect x="962" y="635" width="1" height="5" fill="#c0c0c0"/><rect x="970" y="635" width="1" height="2" fill="#c0c0c0"/><rect x="978" y="634" width="1" height="2" fill="#c0c0c0"/><rect x="986" y="631" width="1" height="5" fill="#c0c0c0"/><rect x="994" y="630" width="1" height="6" fill="#c0c0c0"/><rect x="1002" y="629" width="1" height="7" fill="#c0c0c0"/><rect x="1010" y="630" width="1" height="6" fill="#c0c0c0"/><rect x="1018" y="630" width="1" height="6" fill="#c0c0c0"/><rect x="1026" y="631" width="1" height="5" fill="#c0c0c0"/><rect x="1034" y="634" width="1" height="2" fill="#c0c0c0"/><rect x="1042" y="635" width="1" height="2" fill="#c0c0c0"/><rect x="1050" y="635" width="1" height="4" fill="#c0c0c0"/><rect x="1058" y="635" width="1" height="7" fill="#c0c0c0"/><rect x="1066" y="635" width="1" height="8" fill="#c0c0c0"/><rect x="1074" y="635" width="1" height="8" fill="#c0c0c0"/><rect x="1082" y="635" width="1" height="9" fill="#c0c0c0"/><rect x="1090" y="635" width="1" height="10" fill="#c0c0c0"/><rect x="1098" y="635" width="1" height="5" fill="#c0c0c0"/><rect x="1106" y="635" width="1" height="5" fill="#c0c0c0"/><rect x="1114" y="635" width="1" height="6" fill="#c0c0c0"/><rect x="1122" y="635" width="1" height="7" fill="#c0c0c0"/><rect x="1130" y="635" width="1" height="8" fill="#c0c0c0"/><rect x="1138" y="635" width="1" height="14" fill="#c0c0c0"/><rect x="1146" y="635" width="1" height="16" fill="#c0c0c0"/><rect x="1154" y="635" width="1" height="15" fill="#c0c0c0"/><rect x="1162" y="635" width="1" height="13" fill="#c0c0c0"/><rect x="1170" y="635" width="1" height="13" fill="#c0c0c0"/><rect x="1178" y="635" width="1" height="15" fill="#c0c0c0"/><rect x="1186" y="635" width="1" height="18" fill="#c0c0c0"/><rect x="1194" y="635" width="1" height="19" fill="#c0c0c0"/><rect x="1202" y="635" width="1" height="22" fill="#c0c0c0"/><rect x="1210" y="635" width="1" height="26" fill="#c0c0c0"/><rect x="1218" y="635" width="1" height="25" fill="#c0c0c0"/><rect x="1226" y="635" width="1" height="20" fill="#c0c0c0"/><rect x="1234" y="635" width="1" height="20" fill="#c0c0c0"/><rect x="1242" y="635" width="1" height="18" fill="#c0c0c0"/><rect x="1250" y="635" width="1" height="18" fill="#c0c0c0"/><rect x="1258" y="635" width="1" height="17" fill="#c0c0c0"/><rect x="1266" y="635" width="1" height="16" fill="#c0c0c0"/><rect x="1274" y="635" width="1" height="12" fill="#c0c0c0"/><rect x="1282" y="635" width="1" height="10" fill="#c0c0c0"/><rect x="1290" y="635" width="1" height="7" fill="#c0c0c0"/><rect x="1298" y="635" width="1" height="4" fill="#c0c0c0"/><rect x="1306" y="635" width="1" height="2" fill="#c0c0c0"/><rect x="1314" y="631" width="1" height="5" fill="#c0c0c0"/><rect x="1322" y="621" width="1" height="15" fill="#c0c0c0"/><rect x="1330" y="613" width="1" height="23" fill="#c0c0c0"/><rect x="1338" y="605" width="1" height="31" fill="#c0c0c0"/><rect x="1346" y="597" width="1" height="39" fill="#c0c0c0"/><rect x="1354" y="589" width="1" height="47" fill="#c0c0c0"/><rect x="1362" y="587" width="1" height="49" fill="#c0c0c0"/><rect x="1370" y="589" width="1" height="47" fill="#c0c0c0"/><rect x="1378" y="593" width="1" height="43" fill="#c0c0c0"/><rect x="1386" y="600" width="1" height="36" fill="#c0c0c0"/><rect x="1394" y="607" width="1" height="29" fill="#c0c0c0"/><rect x="1402" y="613" width="1" height="23" fill="#c0c0c0"/><rect x="1410" y="613" width="1" height="23" fill="#c0c0c0"/><rect x="1418" y="616" width="1" height="20" fill="#c0c0c0"/><rect x="1426" y="620" width="1" height="16" fill="#c0c0c0"/><rect x="1434" y="627" width="1" height="9" fill="#c0c0c0"/><polyline points="0.5,613.8 8.6,615.4 20.7,616.8 30.8,618.4 40.9,619.2 53.0,620.3 61.1,620.9 75.3,620.9 85.4,620.3 97.5,618.8 105.6,617.2 113.7,615.8 125.8,614.8 133.9,613.4 141.9,611.2 152.0,608.7 162.1,606.1 172.3,603.7 182.4,601.1 192.5,600.0 204.6,600.0 212.7,601.1 218.7,604.1 226.8,607.3 234.9,611.2 243.0,615.4 251.1,619.9 259.1,622.9 267.2,624.9 275.3,626.3 283.4,627.3 293.5,628.3 307.6,629.3 319.8,630.4 327.8,631.4 335.9,632.4 344.0,633.6 348.8,634.4 361.3,635.0 373.8,635.0 382.1,634.4 394.5,632.7 402.9,631.7 415.3,630.9 427.8,630.5 438.2,629.2 450.7,629.2 459.0,629.6 465.2,630.7 473.5,631.7 483.9,632.7 494.3,634.0 504.7,635.9 513.0,637.5 525.5,638.6 538.0,639.6 550.4,641.1 560.8,641.7 575.4,642.1 587.8,641.7 600.3,641.1 610.7,640.0 619.0,638.6 627.3,636.9 635.7,634.8 646.0,632.3 656.4,630.2 666.8,629.2 677.2,629.2 685.5,630.7 693.9,632.7 697.9,635.3 707.1,640.8 715.4,647.8 722.8,651.0 731.1,658.4 739.5,664.5 746.9,669.5 755.2,675.9 763.5,680.5 770.9,684.2 779.2,688.9 787.5,694.4 794.9,698.5 803.2,704.6 811.5,709.7 819.8,715.1 828.1,721.2 836.5,725.8 843.9,728.6 851.2,730.8 858.6,731.4 867.9,729.5 875.3,727.3 882.6,721.2 891.0,713.8 899.3,706.4 907.6,699.0 915.9,691.6 923.3,684.2 931.6,675.9 939.9,669.5 947.3,664.8 955.6,660.2 963.0,656.5 971.3,653.4 979.6,649.1 988.0,644.1 995.3,642.3 1002.2,638.7 1009.2,636.1 1016.1,634.4 1021.3,633.0 1028.2,631.9 1040.3,631.9 1046.4,631.9 1052.5,633.0 1059.4,634.0 1064.6,634.9 1069.8,636.1 1076.7,637.0 1081.9,638.2 1087.1,639.6 1094.0,640.4 1106.2,641.8 1118.3,641.8 1123.5,641.8 1130.4,642.7 1142.5,643.0 1147.7,643.9 1154.7,644.9 1165.1,644.9 1172.0,646.1 1178.9,647.0 1184.1,647.3 1189.3,649.1 1196.2,649.9 1201.4,651.0 1208.4,652.2 1215.3,653.1 1220.5,653.8 1225.7,653.9 1232.6,654.8 1243.0,655.1 1249.9,656.0 1256.9,656.0 1262.1,655.1 1270.7,654.6 1277.6,653.4 1284.6,651.2 1291.5,649.9 1297.9,647.8 1303.4,646.7 1309.9,644.8 1315.9,643.2 1321.9,640.2 1327.9,637.2 1333.9,633.5 1339.5,630.2 1345.5,625.8 1351.5,621.0 1357.5,616.8 1363.5,612.5 1369.5,608.8 1375.5,604.8 1382.0,600.9 1387.5,599.0 1394.0,597.9 1400.0,597.9 1406.0,597.9 1411.5,598.8 1418.0,600.7 1424.0,602.7 1430.5,605.8" fill="none" stroke="#ff0000" stroke-width="1" stroke-dasharray="3,3"/></g><g clip-path="url(#crsi)" shape-rendering="crispEdges"><line x1="0" y1="785.5" x2="1685" y2="785.5" stroke="#c0c0c0" stroke-width="1" stroke-dasharray="4,4"/><line x1="0" y1="836.5" x2="1685" y2="836.5" stroke="#c0c0c0" stroke-width="1" stroke-dasharray="4,4"/><line x1="0" y1="897.5" x2="1685" y2="897.5" stroke="#c0c0c0" stroke-width="1" stroke-dasharray="4,4"/><polyline points="-5.5,822.8 2.5,822.8 10.5,839.5 18.5,834.3 26.5,822.2 34.5,826.8 42.5,813.9 50.5,813.9 58.5,810.8 66.5,813.9 74.5,821.8 82.5,819.7 90.5,804.5 98.5,800.8 106.5,809.7 114.5,809.1 122.5,807.7 130.5,807.7 138.5,802.9 146.5,778.6 154.5,801.4 162.5,800.8 170.5,809.7 178.5,827.4 186.5,830.9 194.5,839.9 202.5,838.8 210.5,840.3 218.5,846.5 226.5,848.6 234.5,844.5 242.5,837.4 250.5,829.1 258.5,829.1 266.5,834.7 274.5,823.7 282.5,822.8 290.5,836.8 298.5,850.9 306.5,850.9 314.5,835.1 322.5,844.7 330.5,834.1 338.5,833.0 346.5,833.0 354.5,834.6 362.5,835.0 370.5,832.5 378.5,830.4 386.5,823.1 394.5,831.8 402.5,831.8 410.5,832.9 418.5,830.8 426.5,822.1 434.5,827.3 442.5,839.3 450.5,847.6 458.5,846.0 466.5,847.4 474.5,849.7 482.5,842.4 490.5,835.0 498.5,836.6 506.5,855.3 514.5,837.7 522.5,836.6 530.5,841.8 538.5,849.7 546.5,851.8 554.5,846.0 562.5,839.3 570.5,837.0 578.5,828.9 586.5,829.8 594.5,827.9 602.5,833.9 610.5,832.9 618.5,822.7 626.5,817.9 634.5,812.1 642.5,817.5 650.5,835.0 658.5,832.9 666.5,844.9 674.5,853.7 682.5,876.5 690.5,876.5 698.5,868.8 706.5,875.7 714.5,859.9 722.5,865.7 730.5,869.5 738.5,873.0 746.5,878.6 754.5,869.9 762.5,876.5 770.5,884.8 778.5,870.5 786.5,875.1 794.5,880.7 802.5,880.9 810.5,890.7 818.5,874.5 826.5,869.9 834.5,871.5 842.5,869.9 850.5,852.2 858.5,850.5 866.5,841.2 874.5,832.9 882.5,836.0 890.5,837.7 898.5,838.7 906.5,842.4 914.5,836.0 922.5,841.8 930.5,841.8 938.5,837.2 946.5,833.5 954.5,827.9 962.5,827.9 970.5,827.9 978.5,829.8 986.5,825.8 994.5,830.4 1002.5,830.8 1010.5,835.0 1018.5,833.9 1026.5,838.7 1034.5,852.8 1042.5,848.5 1050.5,846.7 1058.5,850.0 1066.5,847.2 1074.5,843.2 1082.5,847.9 1090.5,845.6 1098.5,824.1 1106.5,839.1 1114.5,843.2 1122.5,845.1 1130.5,847.9 1138.5,861.0 1146.5,852.5 1154.5,844.4 1162.5,840.9 1170.5,842.1 1178.5,852.5 1186.5,856.6 1194.5,850.9 1202.5,860.6 1210.5,864.0 1218.5,848.6 1226.5,837.5 1234.5,841.6 1242.5,843.2 1250.5,847.9 1258.5,843.9 1266.5,842.8 1274.5,831.7 1282.5,835.2 1290.5,831.7 1298.5,828.9 1306.5,827.8 1314.5,816.7 1322.5,800.1 1330.5,799.8 1338.5,797.1 1346.5,791.3 1354.5,788.5 1362.5,802.8 1370.5,814.4 1378.5,825.5 1386.5,839.8 1394.5,840.9 1402.5,839.8 1410.5,828.2 1418.5,832.9 1426.5,841.4 1434.5,849.5" fill="none" stroke="#1e90ff" stroke-width="1" /></g><g shape-rendering="crispEdges"><rect x="0" y="22" width="1686" height="1" fill="#000"/><rect x="1685" y="22" width="1" height="554" fill="#000"/><rect x="0" y="575" width="1686" height="1" fill="#000"/><rect x="0" y="577" width="1686" height="1" fill="#000"/><rect x="1685" y="577" width="1" height="171" fill="#000"/><rect x="0" y="747" width="1686" height="1" fill="#000"/><rect x="0" y="749" width="1686" height="1" fill="#000"/><rect x="1685" y="749" width="1" height="175" fill="#000"/><rect x="0" y="923" width="1686" height="1" fill="#000"/></g><g shape-rendering="crispEdges"><rect x="1686" y="44" width="2" height="1" fill="#000"/><rect x="1686" y="77" width="2" height="1" fill="#000"/><rect x="1686" y="110" width="2" height="1" fill="#000"/><rect x="1686" y="143" width="2" height="1" fill="#000"/><rect x="1686" y="176" width="2" height="1" fill="#000"/><rect x="1686" y="209" width="2" height="1" fill="#000"/><rect x="1686" y="242" width="2" height="1" fill="#000"/><rect x="1686" y="275" width="2" height="1" fill="#000"/><rect x="1686" y="308" width="2" height="1" fill="#000"/><rect x="1686" y="341" width="2" height="1" fill="#000"/><rect x="1686" y="374" width="2" height="1" fill="#000"/><rect x="1686" y="407" width="2" height="1" fill="#000"/><rect x="1686" y="440" width="2" height="1" fill="#000"/><rect x="1686" y="473" width="2" height="1" fill="#000"/><rect x="1686" y="506" width="2" height="1" fill="#000"/><rect x="1686" y="539" width="2" height="1" fill="#000"/><rect x="1686" y="572" width="2" height="1" fill="#000"/></g><text x="1691" y="48" textLength="33.72" lengthAdjust="spacingAndGlyphs" style="font-family:'Liberation Sans',Arial,sans-serif;font-size:9.9px" fill="#000">148.190</text><text x="1691" y="81" textLength="33.72" lengthAdjust="spacingAndGlyphs" style="font-family:'Liberation Sans',Arial,sans-serif;font-size:9.9px" fill="#000">146.660</text><text x="1691" y="114" textLength="33.72" lengthAdjust="spacingAndGlyphs" style="font-family:'Liberation Sans',Arial,sans-serif;font-size:9.9px" fill="#000">145.085</text><text x="1691" y="147" textLength="33.72" lengthAdjust="spacingAndGlyphs" style="font-family:'Liberation Sans',Arial,sans-serif;font-size:9.9px" fill="#000">143.555</text><text x="1691" y="180" textLength="33.72" lengthAdjust="spacingAndGlyphs" style="font-family:'Liberation Sans',Arial,sans-serif;font-size:9.9px" fill="#000">142.025</text><text x="1691" y="213" textLength="33.72" lengthAdjust="spacingAndGlyphs" style="font-family:'Liberation Sans',Arial,sans-serif;font-size:9.9px" fill="#000">140.495</text><text x="1691" y="246" textLength="33.72" lengthAdjust="spacingAndGlyphs" style="font-family:'Liberation Sans',Arial,sans-serif;font-size:9.9px" fill="#000">138.965</text><text x="1691" y="279" textLength="33.72" lengthAdjust="spacingAndGlyphs" style="font-family:'Liberation Sans',Arial,sans-serif;font-size:9.9px" fill="#000">137.390</text><text x="1691" y="312" textLength="33.72" lengthAdjust="spacingAndGlyphs" style="font-family:'Liberation Sans',Arial,sans-serif;font-size:9.9px" fill="#000">135.860</text><text x="1691" y="345" textLength="33.72" lengthAdjust="spacingAndGlyphs" style="font-family:'Liberation Sans',Arial,sans-serif;font-size:9.9px" fill="#000">134.330</text><text x="1691" y="411" textLength="33.72" lengthAdjust="spacingAndGlyphs" style="font-family:'Liberation Sans',Arial,sans-serif;font-size:9.9px" fill="#000">131.270</text><text x="1691" y="444" textLength="33.72" lengthAdjust="spacingAndGlyphs" style="font-family:'Liberation Sans',Arial,sans-serif;font-size:9.9px" fill="#000">129.695</text><text x="1691" y="477" textLength="33.72" lengthAdjust="spacingAndGlyphs" style="font-family:'Liberation Sans',Arial,sans-serif;font-size:9.9px" fill="#000">128.165</text><text x="1691" y="510" textLength="33.72" lengthAdjust="spacingAndGlyphs" style="font-family:'Liberation Sans',Arial,sans-serif;font-size:9.9px" fill="#000">126.635</text><text x="1691" y="543" textLength="33.72" lengthAdjust="spacingAndGlyphs" style="font-family:'Liberation Sans',Arial,sans-serif;font-size:9.9px" fill="#000">125.105</text><text x="1691" y="576" textLength="33.72" lengthAdjust="spacingAndGlyphs" style="font-family:'Liberation Sans',Arial,sans-serif;font-size:9.9px" fill="#000">123.575</text><rect x="1687" y="315" width="41" height="11" fill="#ff0000" shape-rendering="crispEdges"/><text x="1691" y="325" textLength="33.72" lengthAdjust="spacingAndGlyphs" style="font-family:'Liberation Sans',Arial,sans-serif;font-size:9.9px" fill="#fff">135.266</text><rect x="1687" y="332" width="41" height="11" fill="#ff0000" shape-rendering="crispEdges"/><text x="1691" y="342" textLength="33.72" lengthAdjust="spacingAndGlyphs" style="font-family:'Liberation Sans',Arial,sans-serif;font-size:9.9px" fill="#fff">134.474</text><rect x="1687" y="352" width="41" height="11" fill="#32cd32" shape-rendering="crispEdges"/><text x="1691" y="362" textLength="33.72" lengthAdjust="spacingAndGlyphs" style="font-family:'Liberation Sans',Arial,sans-serif;font-size:9.9px" fill="#fff">133.543</text><rect x="1687" y="366" width="41" height="11" fill="#000000" shape-rendering="crispEdges"/><text x="1691" y="376" textLength="33.72" lengthAdjust="spacingAndGlyphs" style="font-family:'Liberation Sans',Arial,sans-serif;font-size:9.9px" fill="#fff">132.902</text><rect x="1687" y="388" width="41" height="11" fill="#0000ff" shape-rendering="crispEdges"/><text x="1691" y="398" textLength="33.72" lengthAdjust="spacingAndGlyphs" style="font-family:'Liberation Sans',Arial,sans-serif;font-size:9.9px" fill="#fff">131.867</text><rect x="1687" y="409" width="41" height="11" fill="#0000ff" shape-rendering="crispEdges"/><text x="1691" y="419" textLength="33.72" lengthAdjust="spacingAndGlyphs" style="font-family:'Liberation Sans',Arial,sans-serif;font-size:9.9px" fill="#fff">130.889</text><g shape-rendering="crispEdges"><rect x="1686" y="579" width="2" height="1" fill="#000"/><rect x="1686" y="635" width="2" height="1" fill="#000"/><rect x="1686" y="746" width="2" height="1" fill="#000"/><rect x="1686" y="750" width="2" height="1" fill="#000"/><rect x="1686" y="785" width="2" height="1" fill="#000"/><rect x="1686" y="836" width="2" height="1" fill="#000"/><rect x="1686" y="897" width="2" height="1" fill="#000"/><rect x="1686" y="922" width="2" height="1" fill="#000"/></g><text x="1690" y="588" textLength="23.35" lengthAdjust="spacingAndGlyphs" style="font-family:'Liberation Sans',Arial,sans-serif;font-size:9.9px" fill="#000">1.894</text><text x="1690" y="639" textLength="18.16" lengthAdjust="spacingAndGlyphs" style="font-family:'Liberation Sans',Arial,sans-serif;font-size:9.9px" fill="#000">0.00</text><text x="1689" y="744" textLength="31.64" lengthAdjust="spacingAndGlyphs" style="font-family:'Liberation Sans',Arial,sans-serif;font-size:9.9px" fill="#000">-3.7183</text><text x="1690" y="760" textLength="15.57" lengthAdjust="spacingAndGlyphs" style="font-family:'Liberation Sans',Arial,sans-serif;font-size:9.9px" fill="#000">100</text><text x="1690" y="789" textLength="10.38" lengthAdjust="spacingAndGlyphs" style="font-family:'Liberation Sans',Arial,sans-serif;font-size:9.9px" fill="#000">80</text><text x="1690" y="840" textLength="10.38" lengthAdjust="spacingAndGlyphs" style="font-family:'Liberation Sans',Arial,sans-serif;font-size:9.9px" fill="#000">50</text><text x="1690" y="901" textLength="10.38" lengthAdjust="spacingAndGlyphs" style="font-family:'Liberation Sans',Arial,sans-serif;font-size:9.9px" fill="#000">15</text><text x="1690" y="920" textLength="5.19" lengthAdjust="spacingAndGlyphs" style="font-family:'Liberation Sans',Arial,sans-serif;font-size:9.9px" fill="#000">0</text><g shape-rendering="crispEdges"><rect x="58" y="924" width="1" height="3" fill="#000"/><rect x="122" y="924" width="1" height="3" fill="#000"/><rect x="186" y="924" width="1" height="3" fill="#000"/><rect x="250" y="924" width="1" height="3" fill="#000"/><rect x="314" y="924" width="1" height="3" fill="#000"/><rect x="378" y="924" width="1" height="3" fill="#000"/><rect x="442" y="924" width="1" height="3" fill="#000"/><rect x="506" y="924" width="1" height="3" fill="#000"/><rect x="570" y="924" width="1" height="3" fill="#000"/><rect x="634" y="924" width="1" height="3" fill="#000"/><rect x="698" y="924" width="1" height="3" fill="#000"/><rect x="762" y="924" width="1" height="3" fill="#000"/><rect x="826" y="924" width="1" height="3" fill="#000"/><rect x="890" y="924" width="1" height="3" fill="#000"/><rect x="954" y="924" width="1" height="3" fill="#000"/><rect x="1018" y="924" width="1" height="3" fill="#000"/><rect x="1082" y="924" width="1" height="3" fill="#000"/><rect x="1146" y="924" width="1" height="3" fill="#000"/><rect x="1210" y="924" width="1" height="3" fill="#000"/><rect x="1274" y="924" width="1" height="3" fill="#000"/><rect x="1338" y="924" width="1" height="3" fill="#000"/><rect x="1402" y="924" width="1" height="3" fill="#000"/></g><text x="-7" y="936" textLength="52.91" lengthAdjust="spacingAndGlyphs" style="font-family:'Liberation Sans',Arial,sans-serif;font-size:9.9px" fill="#000">20 Nov 2019</text><text x="57" y="936" textLength="52.91" lengthAdjust="spacingAndGlyphs" style="font-family:'Liberation Sans',Arial,sans-serif;font-size:9.9px" fill="#000">29 Nov 2019</text><text x="121" y="936" textLength="47.72" lengthAdjust="spacingAndGlyphs" style="font-family:'Liberation Sans',Arial,sans-serif;font-size:9.9px" fill="#000">9 Dec 2019</text><text x="185" y="936" textLength="52.91" lengthAdjust="spacingAndGlyphs" style="font-family:'Liberation Sans',Arial,sans-serif;font-size:9.9px" fill="#000">18 Dec 2019</text><text x="249" y="936" textLength="52.91" lengthAdjust="spacingAndGlyphs" style="font-family:'Liberation Sans',Arial,sans-serif;font-size:9.9px" fill="#000">27 Dec 2019</text><text x="313" y="936" textLength="46.17" lengthAdjust="spacingAndGlyphs" style="font-family:'Liberation Sans',Arial,sans-serif;font-size:9.9px" fill="#000">6 Jan 2020</text><text x="377" y="936" textLength="51.36" lengthAdjust="spacingAndGlyphs" style="font-family:'Liberation Sans',Arial,sans-serif;font-size:9.9px" fill="#000">15 Jan 2020</text><text x="441" y="936" textLength="51.36" lengthAdjust="spacingAndGlyphs" style="font-family:'Liberation Sans',Arial,sans-serif;font-size:9.9px" fill="#000">24 Jan 2020</text><text x="505" y="936" textLength="47.20" lengthAdjust="spacingAndGlyphs" style="font-family:'Liberation Sans',Arial,sans-serif;font-size:9.9px" fill="#000">3 Feb 2020</text><text x="569" y="936" textLength="52.39" lengthAdjust="spacingAndGlyphs" style="font-family:'Liberation Sans',Arial,sans-serif;font-size:9.9px" fill="#000">12 Feb 2020</text><text x="633" y="936" textLength="52.39" lengthAdjust="spacingAndGlyphs" style="font-family:'Liberation Sans',Arial,sans-serif;font-size:9.9px" fill="#000">21 Feb 2020</text><text x="697" y="936" textLength="47.19" lengthAdjust="spacingAndGlyphs" style="font-family:'Liberation Sans',Arial,sans-serif;font-size:9.9px" fill="#000">2 Mar 2020</text><text x="761" y="936" textLength="51.69" lengthAdjust="spacingAndGlyphs" style="font-family:'Liberation Sans',Arial,sans-serif;font-size:9.9px" fill="#000">11 Mar 2020</text><text x="825" y="936" textLength="52.38" lengthAdjust="spacingAndGlyphs" style="font-family:'Liberation Sans',Arial,sans-serif;font-size:9.9px" fill="#000">20 Mar 2020</text><text x="889" y="936" textLength="52.38" lengthAdjust="spacingAndGlyphs" style="font-family:'Liberation Sans',Arial,sans-serif;font-size:9.9px" fill="#000">30 Mar 2020</text><text x="953" y="936" textLength="45.13" lengthAdjust="spacingAndGlyphs" style="font-family:'Liberation Sans',Arial,sans-serif;font-size:9.9px" fill="#000">8 Apr 2020</text><text x="1017" y="936" textLength="50.32" lengthAdjust="spacingAndGlyphs" style="font-family:'Liberation Sans',Arial,sans-serif;font-size:9.9px" fill="#000">19 Apr 2020</text><text x="1081" y="936" textLength="50.32" lengthAdjust="spacingAndGlyphs" style="font-family:'Liberation Sans',Arial,sans-serif;font-size:9.9px" fill="#000">28 Apr 2020</text><text x="1145" y="936" textLength="48.75" lengthAdjust="spacingAndGlyphs" style="font-family:'Liberation Sans',Arial,sans-serif;font-size:9.9px" fill="#000">7 May 2020</text><text x="1209" y="936" textLength="53.94" lengthAdjust="spacingAndGlyphs" style="font-family:'Liberation Sans',Arial,sans-serif;font-size:9.9px" fill="#000">17 May 2020</text><text x="1273" y="936" textLength="53.94" lengthAdjust="spacingAndGlyphs" style="font-family:'Liberation Sans',Arial,sans-serif;font-size:9.9px" fill="#000">26 May 2020</text><text x="1337" y="936" textLength="46.17" lengthAdjust="spacingAndGlyphs" style="font-family:'Liberation Sans',Arial,sans-serif;font-size:9.9px" fill="#000">4 Jun 2020</text><text x="1401" y="936" textLength="51.36" lengthAdjust="spacingAndGlyphs" style="font-family:'Liberation Sans',Arial,sans-serif;font-size:9.9px" fill="#000">14 Jun 2020</text><text x="9" y="34" textLength="62.40" lengthAdjust="spacingAndGlyphs" style="font-family:'Liberation Sans',Arial,sans-serif;font-size:9.9px" fill="#000">GBPJPY-,Daily</text><text x="78.3" y="34" textLength="141.28" lengthAdjust="spacingAndGlyphs" style="font-family:'Liberation Sans',Arial,sans-serif;font-size:9.9px" fill="#000">134.111 134.334 132.379 132.902</text><polygon points="0,29 0,34 4,34" fill="#000"/><text x="0" y="590" textLength="127.06" lengthAdjust="spacingAndGlyphs" style="font-family:'Liberation Sans',Arial,sans-serif;font-size:9.9px" fill="#000">MACD(12,26,9) 0.3032 0.9206</text><text x="-1" y="762" textLength="68.46" lengthAdjust="spacingAndGlyphs" style="font-family:'Liberation Sans',Arial,sans-serif;font-size:9.9px" fill="#000">RSI(14) 42.6968</text><g><rect x="0" y="0" width="1732" height="18" fill="#f0f0f0"/><rect x="-6" y="-4" width="14" height="16.5" fill="#fff" stroke="#2f78c4" stroke-width="1.2"/><rect x="0" y="1.5" width="7" height="0.8" fill="#b8d0f4"/><rect x="0" y="3.5" width="7" height="0.8" fill="#b8d0f4"/><rect x="0" y="5.5" width="7" height="0.8" fill="#b8d0f4"/><rect x="0" y="7.5" width="7" height="0.8" fill="#b8d0f4"/><rect x="21.5" y="-3" width="11" height="14.5" fill="#fff" stroke="#a89f88" stroke-width="1"/><rect x="24" y="0" width="1" height="5" fill="#666"/><rect x="24" y="4" width="6" height="1" fill="#666"/><line x1="32.519999999999996" y1="10.120000000000001" x2="39.1" y2="16.7" stroke="#b8860b" stroke-width="3"/><line x1="32.519999999999996" y1="10.120000000000001" x2="38.6" y2="16.2" stroke="#f0d040" stroke-width="1.5"/><circle cx="29.4" cy="7" r="5.2" fill="#dff2fb" stroke="#3a7cc8" stroke-width="1.2"/><rect x="27.5" y="4" width="2" height="4" fill="#9ab"/><rect x="46" y="0" width="1" height="16" fill="#a0a0a0"/><rect x="47" y="0" width="1" height="16" fill="#ffffff" opacity="0.8"/><rect x="56.5" y="-3" width="11" height="14.5" fill="#fff" stroke="#666" stroke-width="1" rx="1"/><rect x="58" y="4.5" width="5" height="1" fill="#777"/><rect x="58" y="6.5" width="5" height="1" fill="#777"/><rect x="58" y="8.5" width="5" height="1" fill="#777"/><rect x="58" y="0" width="2" height="2" fill="#888"/><path d="M64.2,4.7 h3.6 v3.5 h3.5 v3.6 h-3.5 v3.5 h-3.6 v-3.5 h-3.5 v-3.6 h3.5 z" fill="#18e838" stroke="#0a9a1a" stroke-width="0.9"/><text x="74.5" y="8.8" style="font-family:'Liberation Sans','Noto Sans CJK SC','WenQuanYi Zen Hei',sans-serif;font-size:12px" fill="#000">新订单</text><path d="M123,8 L130,0 L139.5,7 L132.5,14 Z" fill="#e8b820" stroke="#b07818" stroke-width="1"/><path d="M124,10 L132.5,15 L139.5,8.5" fill="none" stroke="#c08010" stroke-width="1"/><path d="M125,8 L130.5,2 L137,7" fill="none" stroke="#f8e070" stroke-width="1"/><rect x="153" y="-2" width="10" height="8" fill="#2a90e8" stroke="#1a60c0" stroke-width="0.8"/><rect x="156" y="1" width="5" height="1" fill="#fff"/><rect x="156" y="3" width="5" height="1" fill="#cfe"/><path d="M152,13 C150,13 150,9.5 153,9.5 C153,7 157,6 158.5,8 C160,6 164,6.5 164,9.5 C167,9.5 167,13 165,13 Z" fill="#e8eef8" stroke="#5a78a8" stroke-width="1"/><circle cx="187" cy="6.5" r="7.5" fill="none" stroke="#3a78d0" stroke-width="1" opacity="0.5"/><circle cx="187" cy="6.5" r="5.2" fill="none" stroke="#3a78d0" stroke-width="1" opacity="0.7"/><circle cx="187" cy="6.5" r="3" fill="none" stroke="#3a78d0" stroke-width="1" opacity="0.9"/><path d="M187,6.5 L194.5,6.5 A7.5,7.5 0 0 1 187,14 Z" fill="#6cb86c" opacity="0.55"/><circle cx="187" cy="6" r="1.6" fill="#2060c0"/><rect x="186.5" y="6" width="1.4" height="8" fill="#20a020"/><path d="M207,5 L221,5 L216,13 L213,13 Z" fill="#f0d040" stroke="#c0a020" stroke-width="0.8"/><ellipse cx="214" cy="2.5" rx="7.5" ry="3.2" fill="#4aa0e0" stroke="#2a78c0" stroke-width="0.8"/><ellipse cx="214" cy="0" rx="4" ry="2" fill="#7cc0f0"/><circle cx="218.5" cy="9.5" r="4.2" fill="#e02010" stroke="#b01008" stroke-width="0.8"/><rect x="216.8" y="7.8" width="3.4" height="3.4" fill="#fff"/><text x="227.5" y="8.8" style="font-family:'Liberation Sans','Noto Sans CJK SC','WenQuanYi Zen Hei',sans-serif;font-size:12px" fill="#000">自动交易</text><rect x="282" y="0" width="1" height="16" fill="#9a9a9a"/><rect x="283" y="0" width="1" height="16" fill="#ffffff" opacity="0.8"/><rect x="286" y="0" width="3" height="1" fill="#a8a8a8"/><rect x="286" y="2" width="3" height="1" fill="#a8a8a8"/><rect x="286" y="4" width="3" height="1" fill="#a8a8a8"/><rect x="286" y="6" width="3" height="1" fill="#a8a8a8"/><rect x="286" y="8" width="3" height="1" fill="#a8a8a8"/><rect x="286" y="10" width="3" height="1" fill="#a8a8a8"/><rect x="286" y="12" width="3" height="1" fill="#a8a8a8"/><rect x="286" y="14" width="3" height="1" fill="#a8a8a8"/><rect x="300" y="0" width="1" height="14" fill="#555"/><rect x="298" y="11" width="13" height="1" fill="#555"/><polygon points="309,9 312,11.5 309,14" fill="#555"/><rect x="306" y="1" width="1.4" height="9" fill="#0a8a0a"/><rect x="306" y="2" width="3" height="1.2" fill="#0a8a0a"/><rect x="304" y="8" width="2.5" height="1.2" fill="#0a8a0a"/><rect x="320" y="0" width="1" height="16" fill="#a0a0a0"/><rect x="321" y="0" width="1" height="16" fill="#ffffff" opacity="0.8"/><rect x="321" y="0" width="24" height="16" fill="#f8f8f8"/><rect x="328" y="0" width="1" height="14" fill="#555"/><rect x="326" y="11" width="13" height="1" fill="#555"/><polygon points="337,9 340,11.5 337,14" fill="#555"/><rect x="332.5" y="-1" width="4.5" height="8.5" fill="#3ee860" stroke="#0a8a0a" stroke-width="1"/><rect x="334.3" y="8" width="1" height="2" fill="#0a8a0a"/><rect x="356" y="0" width="1" height="14" fill="#555"/><rect x="354" y="11" width="13" height="1" fill="#555"/><polygon points="365,9 368,11.5 365,14" fill="#555"/><path d="M355,8.5 Q361,0 366.5,7" fill="none" stroke="#2a9a2a" stroke-width="1.2"/><rect x="377" y="0" width="1" height="16" fill="#a0a0a0"/><rect x="378" y="0" width="1" height="16" fill="#ffffff" opacity="0.8"/><line x1="395.48" y1="7.48" x2="402.3" y2="14.3" stroke="#b8860b" stroke-width="3"/><line x1="395.48" y1="7.48" x2="401.8" y2="13.8" stroke="#f0d040" stroke-width="1.5"/><circle cx="392" cy="4" r="5.8" fill="#dff2fb" stroke="#3a7cc8" stroke-width="1.2"/><rect x="388.5" y="3.2" width="7" height="1.8" fill="#4a8ab0"/><rect x="391.1" y="0.5" width="1.8" height="7" fill="#4a8ab0"/><line x1="423.48" y1="7.48" x2="430.3" y2="14.3" stroke="#b8860b" stroke-width="3"/><line x1="423.48" y1="7.48" x2="429.8" y2="13.8" stroke="#f0d040" stroke-width="1.5"/><circle cx="420" cy="4" r="5.8" fill="#dff2fb" stroke="#3a7cc8" stroke-width="1.2"/><rect x="416.5" y="3.2" width="7" height="1.8" fill="#4a8ab0"/><rect x="442" y="-1" width="7.6" height="7.3" fill="#2aa020" rx="1"/><rect x="443.3" y="1.2000000000000002" width="5" height="1.2" fill="#fff"/><rect x="443.3" y="2.4" width="1.2" height="2" fill="#fff"/><rect x="447.1" y="2.4" width="1.2" height="2" fill="#fff"/><rect x="450" y="-1" width="7.6" height="7.3" fill="#2050d0" rx="1"/><rect x="451.3" y="1.2000000000000002" width="5" height="1.2" fill="#fff"/><rect x="451.3" y="2.4" width="1.2" height="2" fill="#fff"/><rect x="455.1" y="2.4" width="1.2" height="2" fill="#fff"/><rect x="442" y="6.5" width="7.6" height="7.3" fill="#2050d0" rx="1"/><rect x="443.3" y="8.7" width="5" height="1.2" fill="#fff"/><rect x="443.3" y="9.9" width="1.2" height="2" fill="#fff"/><rect x="447.1" y="9.9" width="1.2" height="2" fill="#fff"/><rect x="450" y="6.5" width="7.6" height="7.3" fill="#2aa020" rx="1"/><rect x="451.3" y="8.7" width="5" height="1.2" fill="#fff"/><rect x="451.3" y="9.9" width="1.2" height="2" fill="#fff"/><rect x="455.1" y="9.9" width="1.2" height="2" fill="#fff"/><rect x="467" y="0" width="1" height="16" fill="#a0a0a0"/><rect x="468" y="0" width="1" height="16" fill="#ffffff" opacity="0.8"/><rect x="472" y="0" width="1" height="16" fill="#a0a0a0"/><rect x="473" y="0" width="1" height="16" fill="#ffffff" opacity="0.8"/><rect x="473" y="0" width="24" height="16" fill="#f8f8f8"/><rect x="480" y="0" width="1" height="14" fill="#555"/><rect x="478" y="11" width="13" height="1" fill="#555"/><polygon points="489,9 492,11.5 489,14" fill="#555"/><polygon points="485,2 489,5.5 485,9" fill="#3ed060" stroke="#0a9a1a" stroke-width="0.8"/><rect x="500" y="0" width="1" height="16" fill="#a0a0a0"/><rect x="501" y="0" width="1" height="16" fill="#ffffff" opacity="0.8"/><rect x="501" y="0" width="24" height="16" fill="#f8f8f8"/><rect x="508" y="0" width="1" height="14" fill="#555"/><rect x="506" y="11" width="13" height="1" fill="#555"/><polygon points="517,9 520,11.5 517,14" fill="#555"/><rect x="514" y="0" width="1.2" height="10" fill="#1a6ab0"/><polygon points="515.5,5.5 518.5,3 518.5,4.8 520,4.8 520,6.2 518.5,6.2 518.5,8" fill="#e05010"/><rect x="529" y="0" width="1" height="16" fill="#a0a0a0"/><rect x="530" y="0" width="1" height="16" fill="#ffffff" opacity="0.8"/><rect x="539.5" y="-3" width="11" height="14.5" fill="#fff" stroke="#666" stroke-width="1" rx="1"/><text x="541" y="8" style="font-family:Liberation Serif,serif;font-size:9px;font-style:italic" fill="#543">f</text><path d="M547.2,4.7 h3.6 v3.5 h3.5 v3.6 h-3.5 v3.5 h-3.6 v-3.5 h-3.5 v-3.6 h3.5 z" fill="#18e838" stroke="#0a9a1a" stroke-width="0.9"/><polygon points="561,5 567,5 564,8" fill="#000"/><circle cx="585" cy="6.3" r="7" fill="#1a6fd0"/><circle cx="585" cy="6.3" r="7" fill="none" stroke="#0a4aa0" stroke-width="0.8"/><circle cx="585" cy="6" r="4.8" fill="#fdfdfd"/><rect x="588.6" y="5.6" width="0.8" height="0.8" fill="#999"/><rect x="588.1" y="7.6" width="0.8" height="0.8" fill="#999"/><rect x="586.6" y="9.1" width="0.8" height="0.8" fill="#999"/><rect x="584.6" y="9.6" width="0.8" height="0.8" fill="#999"/><rect x="582.6" y="9.1" width="0.8" height="0.8" fill="#999"/><rect x="581.1" y="7.6" width="0.8" height="0.8" fill="#999"/><rect x="580.6" y="5.6" width="0.8" height="0.8" fill="#999"/><rect x="581.1" y="3.6" width="0.8" height="0.8" fill="#999"/><rect x="582.6" y="2.1" width="0.8" height="0.8" fill="#999"/><rect x="584.6" y="1.6" width="0.8" height="0.8" fill="#999"/><rect x="586.6" y="2.1" width="0.8" height="0.8" fill="#999"/><rect x="588.1" y="3.6" width="0.8" height="0.8" fill="#999"/><path d="M584.5,2.8 V6.3 H587.3" fill="none" stroke="#222" stroke-width="1"/><polygon points="600,5 606,5 603,8" fill="#000"/><rect x="616.5" y="-2" width="15" height="14.5" fill="#fff" stroke="#2a70c8" stroke-width="1"/><rect x="617" y="-2" width="14" height="3" fill="#5a98e0"/><rect x="617" y="6" width="14" height="1" fill="#2a70c8"/><polyline points="618,5 620,4.5 622,3 624,4 626,3 629,2" fill="none" stroke="#a01010" stroke-width="1"/><polyline points="619,10.5 621,9.5 623,10.5 625,8 627,10 629,9" fill="none" stroke="#0a9a0a" stroke-width="1"/><polygon points="639,5 645,5 642,8" fill="#000"/><rect x="650" y="0" width="1" height="18" fill="#8a8a8a"/><rect x="651" y="0" width="1" height="18" fill="#ffffff" opacity="0.8"/><rect x="654" y="0" width="3" height="1" fill="#a8a8a8"/><rect x="654" y="2" width="3" height="1" fill="#a8a8a8"/><rect x="654" y="4" width="3" height="1" fill="#a8a8a8"/><rect x="654" y="6" width="3" height="1" fill="#a8a8a8"/><rect x="654" y="8" width="3" height="1" fill="#a8a8a8"/><rect x="654" y="10" width="3" height="1" fill="#a8a8a8"/><rect x="654" y="12" width="3" height="1" fill="#a8a8a8"/><rect x="654" y="14" width="3" height="1" fill="#a8a8a8"/><rect x="660" y="0" width="1" height="16" fill="#a0a0a0"/><rect x="661" y="0" width="1" height="16" fill="#ffffff" opacity="0.8"/><rect x="661" y="0" width="24" height="16" fill="#f8f8f8"/><path d="M668,0 L668,9 L670.5,7 L672.5,12 L674,11.3 L672,6.5 L675.5,6.5 Z" fill="#444"/><rect x="693" y="6" width="15" height="1" fill="#555"/><rect x="700" y="0" width="1" height="13" fill="#555"/><rect x="717" y="0" width="1" height="16" fill="#a0a0a0"/><rect x="718" y="0" width="1" height="16" fill="#ffffff" opacity="0.8"/><rect x="735" y="0" width="1" height="13" fill="#666"/><rect x="757" y="6" width="12" height="1" fill="#555"/><line x1="785" y1="13" x2="797" y2="1" stroke="#555" stroke-width="1"/><line x1="811" y1="8" x2="823" y2="-1" stroke="#555" stroke-width="1"/><line x1="813" y1="12" x2="825" y2="3" stroke="#555" stroke-width="1"/><line x1="813" y1="6" x2="817" y2="10" stroke="#555" stroke-width="0.8"/><line x1="817" y1="3" x2="821" y2="7" stroke="#555" stroke-width="0.8"/><text x="822" y="14.5" style="font-family:'Liberation Sans',Arial,sans-serif;font-size:7px;font-weight:bold" fill="#444">E</text><line x1="840" y1="2.5" x2="853" y2="2.5" stroke="#555" stroke-width="1" stroke-dasharray="1,1"/><line x1="840" y1="6.5" x2="853" y2="6.5" stroke="#555" stroke-width="1" stroke-dasharray="1,1"/><line x1="840" y1="10.5" x2="853" y2="10.5" stroke="#555" stroke-width="1" stroke-dasharray="1,1"/><text x="849.5" y="15" style="font-family:'Liberation Sans',Arial,sans-serif;font-size:7px;font-weight:bold" fill="#444">F</text><text x="870.5" y="11" style="font-family:'Liberation Sans',Arial,sans-serif;font-size:12px" fill="#555">A</text><rect x="896.5" y="-1" width="12" height="13" fill="none" stroke="#666" stroke-width="1" stroke-dasharray="1,1"/><text x="898.5" y="10.5" style="font-family:'Liberation Sans',Arial,sans-serif;font-size:12px;font-weight:bold" fill="#555">T</text><polygon points="925,2 927.5,0 930,2 927.5,4" fill="#444"/><polygon points="933,9 935.5,7 938,9 935.5,11.5" fill="#444"/><polyline points="927,5 929.5,8 933,3" fill="none" stroke="#444" stroke-width="1.3"/><polygon points="945,5 951,5 948,8" fill="#000"/><rect x="956" y="0" width="1" height="18" fill="#8a8a8a"/><rect x="957" y="0" width="1" height="18" fill="#ffffff" opacity="0.8"/><rect x="960" y="0" width="3" height="1" fill="#a8a8a8"/><rect x="960" y="2" width="3" height="1" fill="#a8a8a8"/><rect x="960" y="4" width="3" height="1" fill="#a8a8a8"/><rect x="960" y="6" width="3" height="1" fill="#a8a8a8"/><rect x="960" y="8" width="3" height="1" fill="#a8a8a8"/><rect x="960" y="10" width="3" height="1" fill="#a8a8a8"/><rect x="960" y="12" width="3" height="1" fill="#a8a8a8"/><rect x="960" y="14" width="3" height="1" fill="#a8a8a8"/><text x="971.5" y="9.8" style="font-family:'Liberation Sans',Arial,sans-serif;font-size:9.4px" fill="#222">M1</text><text x="999.5" y="9.8" style="font-family:'Liberation Sans',Arial,sans-serif;font-size:9.4px" fill="#222">M5</text><text x="1025.5" y="9.8" style="font-family:'Liberation Sans',Arial,sans-serif;font-size:9.4px" fill="#222">M15</text><text x="1053.5" y="9.8" style="font-family:'Liberation Sans',Arial,sans-serif;font-size:9.4px" fill="#222">M30</text><text x="1084" y="9.8" style="font-family:'Liberation Sans',Arial,sans-serif;font-size:9.4px" fill="#222">H1</text><text x="1111.5" y="9.8" style="font-family:'Liberation Sans',Arial,sans-serif;font-size:9.4px" fill="#222">H4</text><rect x="1134" y="0" width="1" height="16" fill="#a0a0a0"/><rect x="1135" y="0" width="1" height="16" fill="#ffffff" opacity="0.8"/><rect x="1135" y="0" width="25" height="16" fill="#f8f8f8"/><text x="1140.5" y="9.8" style="font-family:'Liberation Sans',Arial,sans-serif;font-size:9.4px" fill="#222">D1</text><text x="1167.5" y="9.8" style="font-family:'Liberation Sans',Arial,sans-serif;font-size:9.4px" fill="#222">W1</text><text x="1194.5" y="9.8" style="font-family:'Liberation Sans',Arial,sans-serif;font-size:9.4px" fill="#222">MN</text><rect x="1217" y="0" width="1" height="16" fill="#a0a0a0"/><rect x="1218" y="0" width="1" height="16" fill="#ffffff" opacity="0.8"/><line x1="1681" y1="10.5" x2="1685.5" y2="6" stroke="#2050c8" stroke-width="2.2"/><circle cx="1687.5" cy="3.5" r="3.6" fill="#fff" stroke="#2060d0" stroke-width="1.4"/><ellipse cx="1721" cy="3" rx="5" ry="4" fill="#f4f4f8" stroke="#8a8a8a" stroke-width="0.8"/><path d="M1722,6.5 L1724,9.5 L1719.5,6.8" fill="#f4f4f8" stroke="#777" stroke-width="0.6"/><ellipse cx="1712" cy="7" rx="5" ry="3.7" fill="#f4f4f8" stroke="#8a8a8a" stroke-width="0.8"/><path d="M1709,10 L1708.5,12.5 L1712,10.5" fill="#f4f4f8" stroke="#777" stroke-width="0.6"/><rect x="0" y="18" width="1732" height="1" fill="#a8a8a8"/><rect x="0" y="19" width="1732" height="1" fill="#6e6e6e"/></g><rect x="1731" y="20" width="1" height="923" fill="#e3e3e3" shape-rendering="crispEdges"/></svg>
<svg width="216" height="106" style="position:absolute;left:0;top:0"><defs><linearGradient id="gtab" x1="0" y1="0" x2="0" y2="1"><stop offset="0" stop-color="#f85a5a"/><stop offset="1" stop-color="#e22e2e"/></linearGradient><linearGradient id="gpx" x1="0" y1="0" x2="0" y2="1"><stop offset="0" stop-color="#e83636"/><stop offset="1" stop-color="#b00000"/></linearGradient><linearGradient id="gbtn" x1="0" y1="0" x2="0" y2="1"><stop offset="0" stop-color="#f4f4f4"/><stop offset="0.45" stop-color="#ececec"/><stop offset="0.5" stop-color="#dadada"/><stop offset="1" stop-color="#d2d2d2"/></linearGradient></defs><g shape-rendering="crispEdges"><rect x="0" y="42" width="216" height="64" fill="#fff"/><rect x="0" y="42" width="49" height="25" fill="#b00000"/><rect x="0" y="43" width="48" height="24" fill="url(#gtab)"/><rect x="1" y="65" width="44" height="1" fill="#8a0000"/><rect x="1" y="66" width="44" height="1" fill="#f07070"/><rect x="164" y="42" width="52" height="25" fill="#b00000"/><rect x="165" y="43" width="50" height="24" fill="url(#gtab)"/><rect x="168" y="65" width="44" height="1" fill="#8a0000"/><rect x="168" y="66" width="44" height="1" fill="#f07070"/><rect x="51" y="42" width="111" height="22" fill="#a8a8a8"/><rect x="52" y="43" width="109" height="20" fill="#fff"/><rect x="52" y="43" width="20" height="20" fill="url(#gbtn)"/><rect x="72" y="43" width="1" height="20" fill="#a8a8a8"/><rect x="141" y="43" width="20" height="20" fill="url(#gbtn)"/><rect x="140" y="43" width="1" height="20" fill="#a8a8a8"/></g><polygon points="59,51 64.5,51 61.75,54" fill="#4a5ac8"/><polygon points="148,54 153.5,54 150.75,51" fill="#4a5ac8"/><text x="136.5" y="57" text-anchor="end" style="font-family:'Liberation Sans',sans-serif;font-size:12px" fill="#000">1.00</text><g shape-rendering="crispEdges"><rect x="0" y="66" width="106" height="40" fill="#b00000"/><rect x="0" y="67" width="105" height="38" fill="url(#gpx)"/><rect x="108" y="66" width="108" height="40" fill="#b00000"/><rect x="109" y="67" width="106" height="38" fill="url(#gpx)"/></g><rect x="1" y="66" width="44" height="1" fill="#f07070" shape-rendering="crispEdges"/><rect x="168" y="66" width="44" height="1" fill="#f07070" shape-rendering="crispEdges"/><rect x="0" y="66" width="48" height="1" fill="#e22e2e" shape-rendering="crispEdges" opacity="0.6"/><text x="9.3" y="58" style="font-family:'Liberation Sans',Arial,sans-serif;font-size:12.3px;letter-spacing:-0.7px" fill="#fff">SELL</text><text x="177.3" y="58" style="font-family:'Liberation Sans',Arial,sans-serif;font-size:12.3px;letter-spacing:-0.7px" fill="#fff">BUY</text><text x="20" y="97" style="font-family:'Liberation Sans',Arial,sans-serif;font-size:13px;font-weight:bold;letter-spacing:-0.4px" fill="#fff">132</text><text x="44.5" y="97" style="font-family:'Liberation Serif',serif;font-size:35.5px" fill="#fff">90</text><text x="83.8" y="81" style="font-family:'Liberation Sans',Arial,sans-serif;font-size:12.3px;font-weight:bold" fill="#fff">2</text><text x="130.5" y="97" style="font-family:'Liberation Sans',Arial,sans-serif;font-size:13px;font-weight:bold;letter-spacing:-0.4px" fill="#fff">132</text><text x="156" y="97" style="font-family:'Liberation Serif',serif;font-size:35.5px" fill="#fff">95</text><text x="195.3" y="81" style="font-family:'Liberation Sans',Arial,sans-serif;font-size:12.3px;font-weight:bold" fill="#fff">1</text></svg>
</body></html>
